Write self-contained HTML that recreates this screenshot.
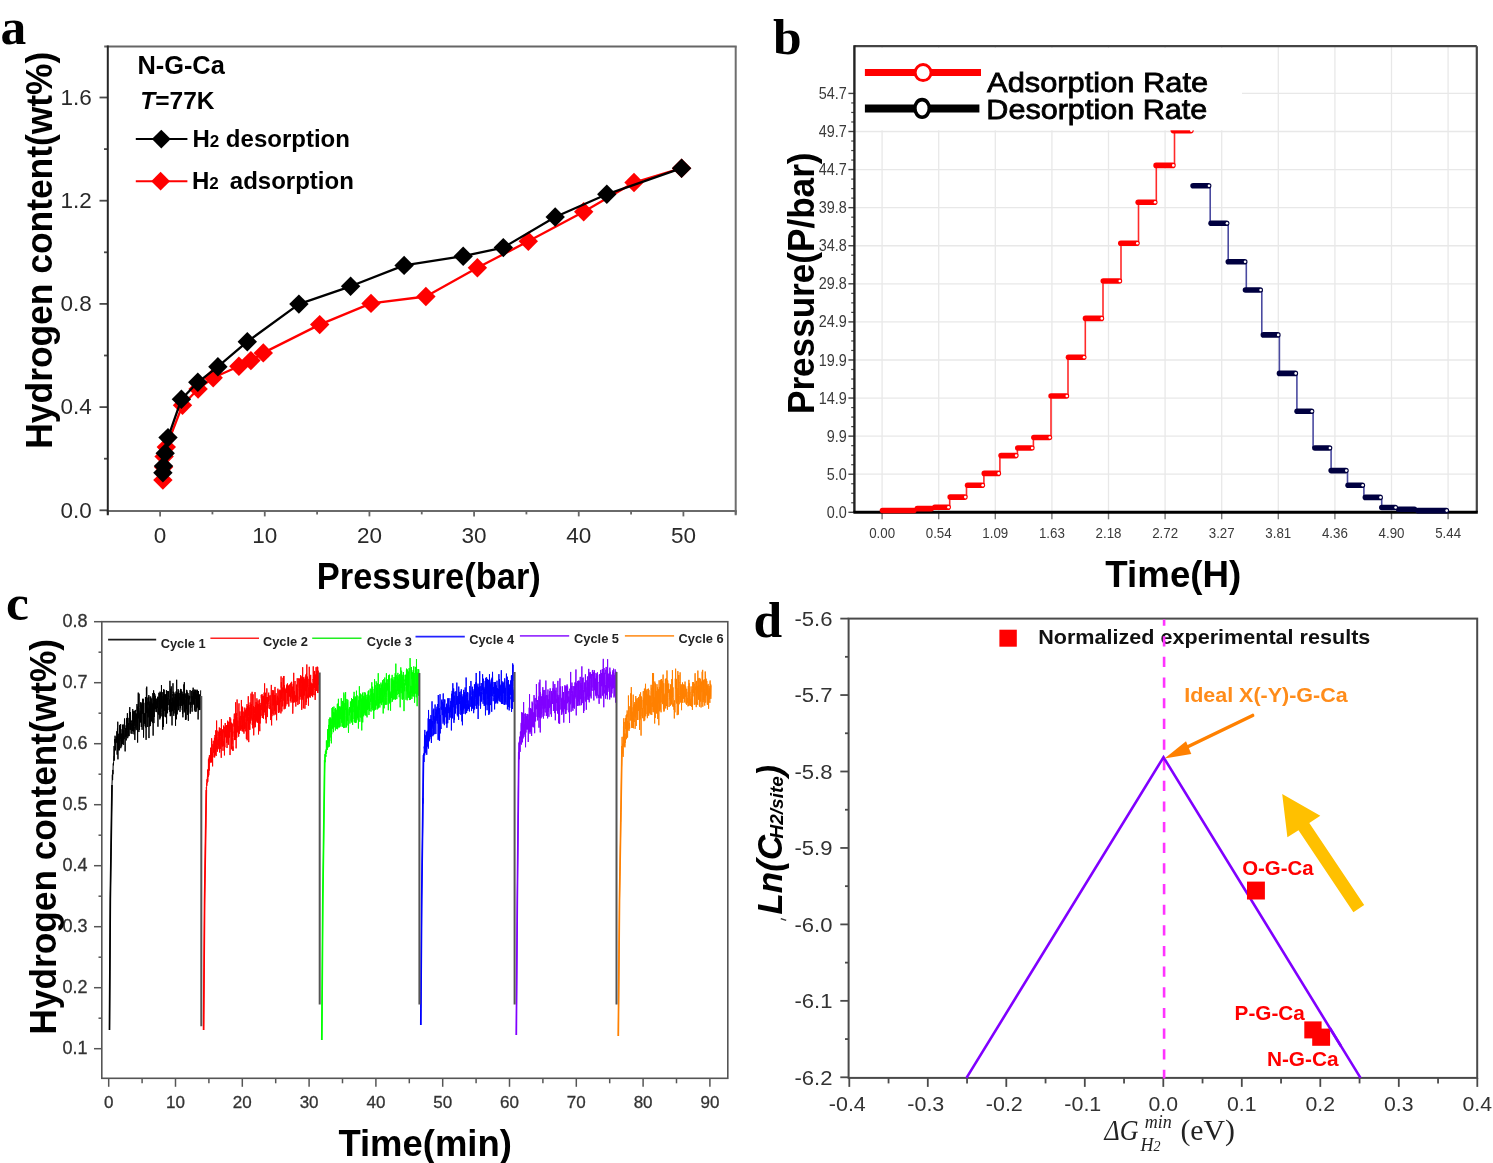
<!DOCTYPE html><html><head><meta charset="utf-8"><style>html,body{margin:0;padding:0;background:#fff;overflow:hidden}svg{display:block;filter:blur(0.4px)}</style></head><body>
<svg width="1493" height="1163" viewBox="0 0 1493 1163">
<rect width="1493" height="1163" fill="#fff"/>
<line x1="104.2" y1="46.4" x2="736.7" y2="46.4" stroke="#666" stroke-width="2" />
<line x1="735.7" y1="46.4" x2="735.7" y2="515.2" stroke="#6e6e6e" stroke-width="2" />
<line x1="106.8" y1="510.9" x2="736.7" y2="510.9" stroke="#6a6a6a" stroke-width="2" />
<line x1="99.5" y1="510.3" x2="107.8" y2="510.3" stroke="#4a4a4a" stroke-width="1.8" />
<text x="91.8" y="517.6" font-family='"Liberation Sans", sans-serif' font-size="22.5" font-weight="normal" font-style="normal" fill="#2a2a2a" text-anchor="end" >0.0</text>
<line x1="104" y1="458.7" x2="107.8" y2="458.7" stroke="#4a4a4a" stroke-width="1.8" />
<line x1="99.5" y1="407.1" x2="107.8" y2="407.1" stroke="#4a4a4a" stroke-width="1.8" />
<text x="91.8" y="414.4" font-family='"Liberation Sans", sans-serif' font-size="22.5" font-weight="normal" font-style="normal" fill="#2a2a2a" text-anchor="end" >0.4</text>
<line x1="104" y1="355.5" x2="107.8" y2="355.5" stroke="#4a4a4a" stroke-width="1.8" />
<line x1="99.5" y1="303.9" x2="107.8" y2="303.9" stroke="#4a4a4a" stroke-width="1.8" />
<text x="91.8" y="311.2" font-family='"Liberation Sans", sans-serif' font-size="22.5" font-weight="normal" font-style="normal" fill="#2a2a2a" text-anchor="end" >0.8</text>
<line x1="104" y1="252.3" x2="107.8" y2="252.3" stroke="#4a4a4a" stroke-width="1.8" />
<line x1="99.5" y1="200.7" x2="107.8" y2="200.7" stroke="#4a4a4a" stroke-width="1.8" />
<text x="91.8" y="208" font-family='"Liberation Sans", sans-serif' font-size="22.5" font-weight="normal" font-style="normal" fill="#2a2a2a" text-anchor="end" >1.2</text>
<line x1="104" y1="149.1" x2="107.8" y2="149.1" stroke="#4a4a4a" stroke-width="1.8" />
<line x1="99.5" y1="97.5" x2="107.8" y2="97.5" stroke="#4a4a4a" stroke-width="1.8" />
<text x="91.8" y="104.8" font-family='"Liberation Sans", sans-serif' font-size="22.5" font-weight="normal" font-style="normal" fill="#2a2a2a" text-anchor="end" >1.6</text>
<line x1="107.77" y1="510.9" x2="107.77" y2="514.4" stroke="#666" stroke-width="1.8" />
<line x1="160.1" y1="510.9" x2="160.1" y2="516.4" stroke="#666" stroke-width="1.8" />
<text x="160.1" y="543.2" font-family='"Liberation Sans", sans-serif' font-size="22.5" font-weight="normal" font-style="normal" fill="#2a2a2a" text-anchor="middle" >0</text>
<line x1="212.43" y1="510.9" x2="212.43" y2="514.4" stroke="#666" stroke-width="1.8" />
<line x1="264.76" y1="510.9" x2="264.76" y2="516.4" stroke="#666" stroke-width="1.8" />
<text x="264.76" y="543.2" font-family='"Liberation Sans", sans-serif' font-size="22.5" font-weight="normal" font-style="normal" fill="#2a2a2a" text-anchor="middle" >10</text>
<line x1="317.09" y1="510.9" x2="317.09" y2="514.4" stroke="#666" stroke-width="1.8" />
<line x1="369.42" y1="510.9" x2="369.42" y2="516.4" stroke="#666" stroke-width="1.8" />
<text x="369.42" y="543.2" font-family='"Liberation Sans", sans-serif' font-size="22.5" font-weight="normal" font-style="normal" fill="#2a2a2a" text-anchor="middle" >20</text>
<line x1="421.75" y1="510.9" x2="421.75" y2="514.4" stroke="#666" stroke-width="1.8" />
<line x1="474.08" y1="510.9" x2="474.08" y2="516.4" stroke="#666" stroke-width="1.8" />
<text x="474.08" y="543.2" font-family='"Liberation Sans", sans-serif' font-size="22.5" font-weight="normal" font-style="normal" fill="#2a2a2a" text-anchor="middle" >30</text>
<line x1="526.41" y1="510.9" x2="526.41" y2="514.4" stroke="#666" stroke-width="1.8" />
<line x1="578.74" y1="510.9" x2="578.74" y2="516.4" stroke="#666" stroke-width="1.8" />
<text x="578.74" y="543.2" font-family='"Liberation Sans", sans-serif' font-size="22.5" font-weight="normal" font-style="normal" fill="#2a2a2a" text-anchor="middle" >40</text>
<line x1="631.07" y1="510.9" x2="631.07" y2="514.4" stroke="#666" stroke-width="1.8" />
<line x1="683.4" y1="510.9" x2="683.4" y2="516.4" stroke="#666" stroke-width="1.8" />
<text x="683.4" y="543.2" font-family='"Liberation Sans", sans-serif' font-size="22.5" font-weight="normal" font-style="normal" fill="#2a2a2a" text-anchor="middle" >50</text>
<line x1="735.73" y1="510.9" x2="735.73" y2="514.4" stroke="#666" stroke-width="1.8" />
<line x1="107.8" y1="45.4" x2="107.8" y2="515.3" stroke="#262626" stroke-width="2" />
<text transform="translate(51.7,448.7) rotate(-90)" font-family='"Liberation Sans", sans-serif' font-size="36" font-weight="bold" font-style="normal" fill="#000" text-anchor="start" textLength="397" lengthAdjust="spacingAndGlyphs" >Hydrogen content(wt%)</text>
<text x="316.8" y="589.3" font-family='"Liberation Sans", sans-serif' font-size="36" font-weight="bold" font-style="normal" fill="#000" text-anchor="start" textLength="224" lengthAdjust="spacingAndGlyphs" >Pressure(bar)</text>
<text x="0.4" y="43.9" font-family='"Liberation Serif", serif' font-size="51.5" font-weight="bold" font-style="normal" fill="#000" text-anchor="start" >a</text>
<text x="137.4" y="73.5" font-family='"Liberation Sans", sans-serif' font-size="25.5" font-weight="bold" font-style="normal" fill="#000" text-anchor="start" textLength="87.4" lengthAdjust="spacingAndGlyphs" >N-G-Ca</text>
<text x="140.3" y="108.7" font-family='"Liberation Sans", sans-serif' font-size="24.5" font-weight="bold" fill="#000"><tspan font-style="italic">T</tspan>=77K</text>
<line x1="135.8" y1="139.1" x2="187.4" y2="139.1" stroke="#000" stroke-width="2" />
<polygon points="161.3,129.7 170.7,139.1 161.3,148.5 151.9,139.1" fill="#000" />
<line x1="135.8" y1="181.2" x2="187.4" y2="181.2" stroke="#ff0000" stroke-width="2" />
<polygon points="160.6,171.8 170,181.2 160.6,190.6 151.2,181.2" fill="#ff0000" />
<text x="192.4" y="147.1" font-family='"Liberation Sans", sans-serif' font-size="24" font-weight="bold" fill="#000">H<tspan font-size="17">2</tspan> desorption</text>
<text x="191.9" y="188.6" font-family='"Liberation Sans", sans-serif' font-size="24" font-weight="bold" fill="#000">H<tspan font-size="17">2</tspan>  <tspan x="229.8">adsorption</tspan></text>
<polyline points="162.9,480.1 163.6,467 164.1,456.6 166.3,447.1 182.5,405.2 198.1,389 213.2,377.8 238.9,366.3 250.9,360.6 263.3,352.9 319.7,324.6 371,303.4 425.9,296.5 477.4,267.7 528.3,241.3 583.7,211.7 634,182.5 681.6,168.2" stroke="#ff0000" stroke-width="2.3" fill="none" stroke-linejoin="round"/>
<polygon points="162.9,470.4 172.6,480.1 162.9,489.8 153.2,480.1" fill="#ff0000" />
<polygon points="163.6,457.3 173.3,467 163.6,476.7 153.9,467" fill="#ff0000" />
<polygon points="164.1,446.9 173.8,456.6 164.1,466.3 154.4,456.6" fill="#ff0000" />
<polygon points="166.3,437.4 176,447.1 166.3,456.8 156.6,447.1" fill="#ff0000" />
<polygon points="182.5,395.5 192.2,405.2 182.5,414.9 172.8,405.2" fill="#ff0000" />
<polygon points="198.1,379.3 207.8,389 198.1,398.7 188.4,389" fill="#ff0000" />
<polygon points="213.2,368.1 222.9,377.8 213.2,387.5 203.5,377.8" fill="#ff0000" />
<polygon points="238.9,356.6 248.6,366.3 238.9,376 229.2,366.3" fill="#ff0000" />
<polygon points="250.9,350.9 260.6,360.6 250.9,370.3 241.2,360.6" fill="#ff0000" />
<polygon points="263.3,343.2 273,352.9 263.3,362.6 253.6,352.9" fill="#ff0000" />
<polygon points="319.7,314.9 329.4,324.6 319.7,334.3 310,324.6" fill="#ff0000" />
<polygon points="371,293.7 380.7,303.4 371,313.1 361.3,303.4" fill="#ff0000" />
<polygon points="425.9,286.8 435.6,296.5 425.9,306.2 416.2,296.5" fill="#ff0000" />
<polygon points="477.4,258 487.1,267.7 477.4,277.4 467.7,267.7" fill="#ff0000" />
<polygon points="528.3,231.6 538,241.3 528.3,251 518.6,241.3" fill="#ff0000" />
<polygon points="583.7,202 593.4,211.7 583.7,221.4 574,211.7" fill="#ff0000" />
<polygon points="634,172.8 643.7,182.5 634,192.2 624.3,182.5" fill="#ff0000" />
<polygon points="681.6,158.5 691.3,168.2 681.6,177.9 671.9,168.2" fill="#ff0000" />
<polyline points="162.9,472.8 163.5,466.1 165.2,453.2 168,437.6 181.4,399.3 197.8,382.3 217.9,366.7 247.3,341.7 298.9,304.1 350.6,286.3 404.1,265.4 463.2,256.2 503.3,247.6 555.2,217 606.8,194.3 681.6,168.2" stroke="#000" stroke-width="2.3" fill="none" stroke-linejoin="round"/>
<polygon points="162.9,463.1 172.6,472.8 162.9,482.5 153.2,472.8" fill="#000" />
<polygon points="163.5,456.4 173.2,466.1 163.5,475.8 153.8,466.1" fill="#000" />
<polygon points="165.2,443.5 174.9,453.2 165.2,462.9 155.5,453.2" fill="#000" />
<polygon points="168,427.9 177.7,437.6 168,447.3 158.3,437.6" fill="#000" />
<polygon points="181.4,389.6 191.1,399.3 181.4,409 171.7,399.3" fill="#000" />
<polygon points="197.8,372.6 207.5,382.3 197.8,392 188.1,382.3" fill="#000" />
<polygon points="217.9,357 227.6,366.7 217.9,376.4 208.2,366.7" fill="#000" />
<polygon points="247.3,332 257,341.7 247.3,351.4 237.6,341.7" fill="#000" />
<polygon points="298.9,294.4 308.6,304.1 298.9,313.8 289.2,304.1" fill="#000" />
<polygon points="350.6,276.6 360.3,286.3 350.6,296 340.9,286.3" fill="#000" />
<polygon points="404.1,255.7 413.8,265.4 404.1,275.1 394.4,265.4" fill="#000" />
<polygon points="463.2,246.5 472.9,256.2 463.2,265.9 453.5,256.2" fill="#000" />
<polygon points="503.3,237.9 513,247.6 503.3,257.3 493.6,247.6" fill="#000" />
<polygon points="555.2,207.3 564.9,217 555.2,226.7 545.5,217" fill="#000" />
<polygon points="606.8,184.6 616.5,194.3 606.8,204 597.1,194.3" fill="#000" />
<polygon points="681.6,158.5 691.3,168.2 681.6,177.9 671.9,168.2" fill="#000" />
<rect x="854.4" y="46.2" width="622.4" height="466.1" fill="#fff" stroke="none"/>
<line x1="854.4" y1="474.22" x2="1476.8" y2="474.22" stroke="#e8e8e8" stroke-width="1.3" />
<line x1="854.4" y1="436.14" x2="1476.8" y2="436.14" stroke="#e8e8e8" stroke-width="1.3" />
<line x1="854.4" y1="398.06" x2="1476.8" y2="398.06" stroke="#e8e8e8" stroke-width="1.3" />
<line x1="854.4" y1="359.98" x2="1476.8" y2="359.98" stroke="#e8e8e8" stroke-width="1.3" />
<line x1="854.4" y1="321.9" x2="1476.8" y2="321.9" stroke="#e8e8e8" stroke-width="1.3" />
<line x1="854.4" y1="283.82" x2="1476.8" y2="283.82" stroke="#e8e8e8" stroke-width="1.3" />
<line x1="854.4" y1="245.74" x2="1476.8" y2="245.74" stroke="#e8e8e8" stroke-width="1.3" />
<line x1="854.4" y1="207.66" x2="1476.8" y2="207.66" stroke="#e8e8e8" stroke-width="1.3" />
<line x1="854.4" y1="169.58" x2="1476.8" y2="169.58" stroke="#e8e8e8" stroke-width="1.3" />
<line x1="854.4" y1="131.5" x2="1476.8" y2="131.5" stroke="#e8e8e8" stroke-width="1.3" />
<line x1="854.4" y1="93.42" x2="1476.8" y2="93.42" stroke="#e8e8e8" stroke-width="1.3" />
<line x1="882.1" y1="46.2" x2="882.1" y2="512.3" stroke="#e8e8e8" stroke-width="1.3" />
<line x1="938.7" y1="46.2" x2="938.7" y2="512.3" stroke="#e8e8e8" stroke-width="1.3" />
<line x1="995.3" y1="46.2" x2="995.3" y2="512.3" stroke="#e8e8e8" stroke-width="1.3" />
<line x1="1051.9" y1="46.2" x2="1051.9" y2="512.3" stroke="#e8e8e8" stroke-width="1.3" />
<line x1="1108.5" y1="46.2" x2="1108.5" y2="512.3" stroke="#e8e8e8" stroke-width="1.3" />
<line x1="1165.1" y1="46.2" x2="1165.1" y2="512.3" stroke="#e8e8e8" stroke-width="1.3" />
<line x1="1221.7" y1="46.2" x2="1221.7" y2="512.3" stroke="#e8e8e8" stroke-width="1.3" />
<line x1="1278.3" y1="46.2" x2="1278.3" y2="512.3" stroke="#e8e8e8" stroke-width="1.3" />
<line x1="1334.9" y1="46.2" x2="1334.9" y2="512.3" stroke="#e8e8e8" stroke-width="1.3" />
<line x1="1391.5" y1="46.2" x2="1391.5" y2="512.3" stroke="#e8e8e8" stroke-width="1.3" />
<line x1="1448.1" y1="46.2" x2="1448.1" y2="512.3" stroke="#e8e8e8" stroke-width="1.3" />
<line x1="848.4" y1="512.3" x2="854.4" y2="512.3" stroke="#444" stroke-width="1.4" />
<text x="846.8" y="517.9" font-family='"Liberation Sans", sans-serif' font-size="16" font-weight="normal" font-style="normal" fill="#3a3a3a" text-anchor="end" transform="translate(846.8 0) scale(0.9 1) translate(-846.8 0)">0.0</text>
<line x1="851.2" y1="502.78" x2="854.4" y2="502.78" stroke="#444" stroke-width="1.2" />
<line x1="851.2" y1="493.26" x2="854.4" y2="493.26" stroke="#444" stroke-width="1.2" />
<line x1="851.2" y1="483.74" x2="854.4" y2="483.74" stroke="#444" stroke-width="1.2" />
<line x1="848.4" y1="474.22" x2="854.4" y2="474.22" stroke="#444" stroke-width="1.4" />
<text x="846.8" y="479.82" font-family='"Liberation Sans", sans-serif' font-size="16" font-weight="normal" font-style="normal" fill="#3a3a3a" text-anchor="end" transform="translate(846.8 0) scale(0.9 1) translate(-846.8 0)">5.0</text>
<line x1="851.2" y1="464.7" x2="854.4" y2="464.7" stroke="#444" stroke-width="1.2" />
<line x1="851.2" y1="455.18" x2="854.4" y2="455.18" stroke="#444" stroke-width="1.2" />
<line x1="851.2" y1="445.66" x2="854.4" y2="445.66" stroke="#444" stroke-width="1.2" />
<line x1="848.4" y1="436.14" x2="854.4" y2="436.14" stroke="#444" stroke-width="1.4" />
<text x="846.8" y="441.74" font-family='"Liberation Sans", sans-serif' font-size="16" font-weight="normal" font-style="normal" fill="#3a3a3a" text-anchor="end" transform="translate(846.8 0) scale(0.9 1) translate(-846.8 0)">9.9</text>
<line x1="851.2" y1="426.62" x2="854.4" y2="426.62" stroke="#444" stroke-width="1.2" />
<line x1="851.2" y1="417.1" x2="854.4" y2="417.1" stroke="#444" stroke-width="1.2" />
<line x1="851.2" y1="407.58" x2="854.4" y2="407.58" stroke="#444" stroke-width="1.2" />
<line x1="848.4" y1="398.06" x2="854.4" y2="398.06" stroke="#444" stroke-width="1.4" />
<text x="846.8" y="403.66" font-family='"Liberation Sans", sans-serif' font-size="16" font-weight="normal" font-style="normal" fill="#3a3a3a" text-anchor="end" transform="translate(846.8 0) scale(0.9 1) translate(-846.8 0)">14.9</text>
<line x1="851.2" y1="388.54" x2="854.4" y2="388.54" stroke="#444" stroke-width="1.2" />
<line x1="851.2" y1="379.02" x2="854.4" y2="379.02" stroke="#444" stroke-width="1.2" />
<line x1="851.2" y1="369.5" x2="854.4" y2="369.5" stroke="#444" stroke-width="1.2" />
<line x1="848.4" y1="359.98" x2="854.4" y2="359.98" stroke="#444" stroke-width="1.4" />
<text x="846.8" y="365.58" font-family='"Liberation Sans", sans-serif' font-size="16" font-weight="normal" font-style="normal" fill="#3a3a3a" text-anchor="end" transform="translate(846.8 0) scale(0.9 1) translate(-846.8 0)">19.9</text>
<line x1="851.2" y1="350.46" x2="854.4" y2="350.46" stroke="#444" stroke-width="1.2" />
<line x1="851.2" y1="340.94" x2="854.4" y2="340.94" stroke="#444" stroke-width="1.2" />
<line x1="851.2" y1="331.42" x2="854.4" y2="331.42" stroke="#444" stroke-width="1.2" />
<line x1="848.4" y1="321.9" x2="854.4" y2="321.9" stroke="#444" stroke-width="1.4" />
<text x="846.8" y="327.5" font-family='"Liberation Sans", sans-serif' font-size="16" font-weight="normal" font-style="normal" fill="#3a3a3a" text-anchor="end" transform="translate(846.8 0) scale(0.9 1) translate(-846.8 0)">24.9</text>
<line x1="851.2" y1="312.38" x2="854.4" y2="312.38" stroke="#444" stroke-width="1.2" />
<line x1="851.2" y1="302.86" x2="854.4" y2="302.86" stroke="#444" stroke-width="1.2" />
<line x1="851.2" y1="293.34" x2="854.4" y2="293.34" stroke="#444" stroke-width="1.2" />
<line x1="848.4" y1="283.82" x2="854.4" y2="283.82" stroke="#444" stroke-width="1.4" />
<text x="846.8" y="289.42" font-family='"Liberation Sans", sans-serif' font-size="16" font-weight="normal" font-style="normal" fill="#3a3a3a" text-anchor="end" transform="translate(846.8 0) scale(0.9 1) translate(-846.8 0)">29.8</text>
<line x1="851.2" y1="274.3" x2="854.4" y2="274.3" stroke="#444" stroke-width="1.2" />
<line x1="851.2" y1="264.78" x2="854.4" y2="264.78" stroke="#444" stroke-width="1.2" />
<line x1="851.2" y1="255.26" x2="854.4" y2="255.26" stroke="#444" stroke-width="1.2" />
<line x1="848.4" y1="245.74" x2="854.4" y2="245.74" stroke="#444" stroke-width="1.4" />
<text x="846.8" y="251.34" font-family='"Liberation Sans", sans-serif' font-size="16" font-weight="normal" font-style="normal" fill="#3a3a3a" text-anchor="end" transform="translate(846.8 0) scale(0.9 1) translate(-846.8 0)">34.8</text>
<line x1="851.2" y1="236.22" x2="854.4" y2="236.22" stroke="#444" stroke-width="1.2" />
<line x1="851.2" y1="226.7" x2="854.4" y2="226.7" stroke="#444" stroke-width="1.2" />
<line x1="851.2" y1="217.18" x2="854.4" y2="217.18" stroke="#444" stroke-width="1.2" />
<line x1="848.4" y1="207.66" x2="854.4" y2="207.66" stroke="#444" stroke-width="1.4" />
<text x="846.8" y="213.26" font-family='"Liberation Sans", sans-serif' font-size="16" font-weight="normal" font-style="normal" fill="#3a3a3a" text-anchor="end" transform="translate(846.8 0) scale(0.9 1) translate(-846.8 0)">39.8</text>
<line x1="851.2" y1="198.14" x2="854.4" y2="198.14" stroke="#444" stroke-width="1.2" />
<line x1="851.2" y1="188.62" x2="854.4" y2="188.62" stroke="#444" stroke-width="1.2" />
<line x1="851.2" y1="179.1" x2="854.4" y2="179.1" stroke="#444" stroke-width="1.2" />
<line x1="848.4" y1="169.58" x2="854.4" y2="169.58" stroke="#444" stroke-width="1.4" />
<text x="846.8" y="175.18" font-family='"Liberation Sans", sans-serif' font-size="16" font-weight="normal" font-style="normal" fill="#3a3a3a" text-anchor="end" transform="translate(846.8 0) scale(0.9 1) translate(-846.8 0)">44.7</text>
<line x1="851.2" y1="160.06" x2="854.4" y2="160.06" stroke="#444" stroke-width="1.2" />
<line x1="851.2" y1="150.54" x2="854.4" y2="150.54" stroke="#444" stroke-width="1.2" />
<line x1="851.2" y1="141.02" x2="854.4" y2="141.02" stroke="#444" stroke-width="1.2" />
<line x1="848.4" y1="131.5" x2="854.4" y2="131.5" stroke="#444" stroke-width="1.4" />
<text x="846.8" y="137.1" font-family='"Liberation Sans", sans-serif' font-size="16" font-weight="normal" font-style="normal" fill="#3a3a3a" text-anchor="end" transform="translate(846.8 0) scale(0.9 1) translate(-846.8 0)">49.7</text>
<line x1="851.2" y1="121.98" x2="854.4" y2="121.98" stroke="#444" stroke-width="1.2" />
<line x1="851.2" y1="112.46" x2="854.4" y2="112.46" stroke="#444" stroke-width="1.2" />
<line x1="851.2" y1="102.94" x2="854.4" y2="102.94" stroke="#444" stroke-width="1.2" />
<line x1="848.4" y1="93.42" x2="854.4" y2="93.42" stroke="#444" stroke-width="1.4" />
<text x="846.8" y="99.02" font-family='"Liberation Sans", sans-serif' font-size="16" font-weight="normal" font-style="normal" fill="#3a3a3a" text-anchor="end" transform="translate(846.8 0) scale(0.9 1) translate(-846.8 0)">54.7</text>
<line x1="882.1" y1="512.3" x2="882.1" y2="519.3" stroke="#777" stroke-width="1.4" />
<text x="0" y="0" transform="translate(882.1,537.7) scale(0.9,1)" font-family='"Liberation Sans", sans-serif' font-size="14.8" fill="#3a3a3a" text-anchor="middle">0.00</text>
<line x1="938.7" y1="512.3" x2="938.7" y2="519.3" stroke="#777" stroke-width="1.4" />
<text x="0" y="0" transform="translate(938.7,537.7) scale(0.9,1)" font-family='"Liberation Sans", sans-serif' font-size="14.8" fill="#3a3a3a" text-anchor="middle">0.54</text>
<line x1="995.3" y1="512.3" x2="995.3" y2="519.3" stroke="#777" stroke-width="1.4" />
<text x="0" y="0" transform="translate(995.3,537.7) scale(0.9,1)" font-family='"Liberation Sans", sans-serif' font-size="14.8" fill="#3a3a3a" text-anchor="middle">1.09</text>
<line x1="1051.9" y1="512.3" x2="1051.9" y2="519.3" stroke="#777" stroke-width="1.4" />
<text x="0" y="0" transform="translate(1051.9,537.7) scale(0.9,1)" font-family='"Liberation Sans", sans-serif' font-size="14.8" fill="#3a3a3a" text-anchor="middle">1.63</text>
<line x1="1108.5" y1="512.3" x2="1108.5" y2="519.3" stroke="#777" stroke-width="1.4" />
<text x="0" y="0" transform="translate(1108.5,537.7) scale(0.9,1)" font-family='"Liberation Sans", sans-serif' font-size="14.8" fill="#3a3a3a" text-anchor="middle">2.18</text>
<line x1="1165.1" y1="512.3" x2="1165.1" y2="519.3" stroke="#777" stroke-width="1.4" />
<text x="0" y="0" transform="translate(1165.1,537.7) scale(0.9,1)" font-family='"Liberation Sans", sans-serif' font-size="14.8" fill="#3a3a3a" text-anchor="middle">2.72</text>
<line x1="1221.7" y1="512.3" x2="1221.7" y2="519.3" stroke="#777" stroke-width="1.4" />
<text x="0" y="0" transform="translate(1221.7,537.7) scale(0.9,1)" font-family='"Liberation Sans", sans-serif' font-size="14.8" fill="#3a3a3a" text-anchor="middle">3.27</text>
<line x1="1278.3" y1="512.3" x2="1278.3" y2="519.3" stroke="#777" stroke-width="1.4" />
<text x="0" y="0" transform="translate(1278.3,537.7) scale(0.9,1)" font-family='"Liberation Sans", sans-serif' font-size="14.8" fill="#3a3a3a" text-anchor="middle">3.81</text>
<line x1="1334.9" y1="512.3" x2="1334.9" y2="519.3" stroke="#777" stroke-width="1.4" />
<text x="0" y="0" transform="translate(1334.9,537.7) scale(0.9,1)" font-family='"Liberation Sans", sans-serif' font-size="14.8" fill="#3a3a3a" text-anchor="middle">4.36</text>
<line x1="1391.5" y1="512.3" x2="1391.5" y2="519.3" stroke="#777" stroke-width="1.4" />
<text x="0" y="0" transform="translate(1391.5,537.7) scale(0.9,1)" font-family='"Liberation Sans", sans-serif' font-size="14.8" fill="#3a3a3a" text-anchor="middle">4.90</text>
<line x1="1448.1" y1="512.3" x2="1448.1" y2="519.3" stroke="#777" stroke-width="1.4" />
<text x="0" y="0" transform="translate(1448.1,537.7) scale(0.9,1)" font-family='"Liberation Sans", sans-serif' font-size="14.8" fill="#3a3a3a" text-anchor="middle">5.44</text>
<line x1="854.4" y1="46.2" x2="1476.8" y2="46.2" stroke="#444" stroke-width="2.2" />
<line x1="1476.8" y1="46.2" x2="1476.8" y2="512.3" stroke="#444" stroke-width="2.2" />
<line x1="854.4" y1="45.2" x2="854.4" y2="512.3" stroke="#222" stroke-width="2.4" />
<line x1="853.4" y1="512.3" x2="1477.8" y2="512.3" stroke="#000" stroke-width="3" />
<line x1="949.7" y1="507.2" x2="949.7" y2="497.1" stroke="#ff2a2a" stroke-width="1.6" />
<line x1="966.5" y1="497.1" x2="966.5" y2="485.3" stroke="#ff2a2a" stroke-width="1.6" />
<line x1="983.9" y1="485.3" x2="983.9" y2="473.4" stroke="#ff2a2a" stroke-width="1.6" />
<line x1="999.9" y1="473.4" x2="999.9" y2="455.6" stroke="#ff2a2a" stroke-width="1.6" />
<line x1="1017.4" y1="455.6" x2="1017.4" y2="448" stroke="#ff2a2a" stroke-width="1.6" />
<line x1="1033.4" y1="448" x2="1033.4" y2="437.5" stroke="#ff2a2a" stroke-width="1.6" />
<line x1="1051" y1="437.5" x2="1051" y2="396" stroke="#ff2a2a" stroke-width="1.6" />
<line x1="1068" y1="396" x2="1068" y2="357.2" stroke="#ff2a2a" stroke-width="1.6" />
<line x1="1085.3" y1="357.2" x2="1085.3" y2="318.4" stroke="#ff2a2a" stroke-width="1.6" />
<line x1="1103" y1="318.4" x2="1103" y2="281" stroke="#ff2a2a" stroke-width="1.6" />
<line x1="1121" y1="281" x2="1121" y2="243.2" stroke="#ff2a2a" stroke-width="1.6" />
<line x1="1138.5" y1="243.2" x2="1138.5" y2="202.2" stroke="#ff2a2a" stroke-width="1.6" />
<line x1="1156.3" y1="202.2" x2="1156.3" y2="165.4" stroke="#ff2a2a" stroke-width="1.6" />
<line x1="1174.5" y1="165.4" x2="1174.5" y2="130.6" stroke="#ff2a2a" stroke-width="1.6" />
<line x1="882.5" y1="510.5" x2="913.9" y2="510.5" stroke="#ff0000" stroke-width="5.6" stroke-linecap="round"/>
<line x1="917.3" y1="508.6" x2="931.4" y2="508.6" stroke="#ff0000" stroke-width="5.6" stroke-linecap="round"/>
<line x1="934.8" y1="507.2" x2="948.1" y2="507.2" stroke="#ff0000" stroke-width="5.6" stroke-linecap="round"/>
<line x1="950.2" y1="497.1" x2="964.9" y2="497.1" stroke="#ff0000" stroke-width="5.6" stroke-linecap="round"/>
<line x1="967.6" y1="485.3" x2="982.3" y2="485.3" stroke="#ff0000" stroke-width="5.6" stroke-linecap="round"/>
<line x1="984.3" y1="473.4" x2="998.3" y2="473.4" stroke="#ff0000" stroke-width="5.6" stroke-linecap="round"/>
<line x1="1001.1" y1="455.6" x2="1015.8" y2="455.6" stroke="#ff0000" stroke-width="5.6" stroke-linecap="round"/>
<line x1="1017.8" y1="448" x2="1031.8" y2="448" stroke="#ff0000" stroke-width="5.6" stroke-linecap="round"/>
<line x1="1033.9" y1="437.5" x2="1049.4" y2="437.5" stroke="#ff0000" stroke-width="5.6" stroke-linecap="round"/>
<line x1="1051.1" y1="396" x2="1066.4" y2="396" stroke="#ff0000" stroke-width="5.6" stroke-linecap="round"/>
<line x1="1068.5" y1="357.2" x2="1083.7" y2="357.2" stroke="#ff0000" stroke-width="5.6" stroke-linecap="round"/>
<line x1="1085.5" y1="318.4" x2="1101.4" y2="318.4" stroke="#ff0000" stroke-width="5.6" stroke-linecap="round"/>
<line x1="1103.3" y1="281" x2="1119.4" y2="281" stroke="#ff0000" stroke-width="5.6" stroke-linecap="round"/>
<line x1="1120.8" y1="243.2" x2="1136.9" y2="243.2" stroke="#ff0000" stroke-width="5.6" stroke-linecap="round"/>
<line x1="1138.2" y1="202.2" x2="1154.7" y2="202.2" stroke="#ff0000" stroke-width="5.6" stroke-linecap="round"/>
<line x1="1156.1" y1="165.4" x2="1172.9" y2="165.4" stroke="#ff0000" stroke-width="5.6" stroke-linecap="round"/>
<line x1="1173.3" y1="130.6" x2="1190.9" y2="130.6" stroke="#ff0000" stroke-width="5.6" stroke-linecap="round"/>
<circle cx="948.5" cy="507.2" r="1.3" fill="#fff"/>
<circle cx="965.3" cy="497.1" r="1.3" fill="#fff"/>
<circle cx="982.7" cy="485.3" r="1.3" fill="#fff"/>
<circle cx="998.7" cy="473.4" r="1.3" fill="#fff"/>
<circle cx="1016.2" cy="455.6" r="1.3" fill="#fff"/>
<circle cx="1032.2" cy="448" r="1.3" fill="#fff"/>
<circle cx="1049.8" cy="437.5" r="1.3" fill="#fff"/>
<circle cx="1066.8" cy="396" r="1.3" fill="#fff"/>
<circle cx="1084.1" cy="357.2" r="1.3" fill="#fff"/>
<circle cx="1101.8" cy="318.4" r="1.3" fill="#fff"/>
<circle cx="1119.8" cy="281" r="1.3" fill="#fff"/>
<circle cx="1137.3" cy="243.2" r="1.3" fill="#fff"/>
<circle cx="1155.1" cy="202.2" r="1.3" fill="#fff"/>
<circle cx="1173.3" cy="165.4" r="1.3" fill="#fff"/>
<circle cx="1191.3" cy="130.6" r="1.3" fill="#fff"/>
<line x1="1210.2" y1="185.7" x2="1210.2" y2="223.2" stroke="#4a4aa0" stroke-width="1.6" />
<line x1="1228.2" y1="223.2" x2="1228.2" y2="261.7" stroke="#4a4aa0" stroke-width="1.6" />
<line x1="1246.3" y1="261.7" x2="1246.3" y2="290" stroke="#4a4aa0" stroke-width="1.6" />
<line x1="1261.8" y1="290" x2="1261.8" y2="334.9" stroke="#4a4aa0" stroke-width="1.6" />
<line x1="1279.4" y1="334.9" x2="1279.4" y2="373.4" stroke="#4a4aa0" stroke-width="1.6" />
<line x1="1296.9" y1="373.4" x2="1296.9" y2="411.2" stroke="#4a4aa0" stroke-width="1.6" />
<line x1="1313.1" y1="411.2" x2="1313.1" y2="448" stroke="#4a4aa0" stroke-width="1.6" />
<line x1="1331.1" y1="448" x2="1331.1" y2="470.6" stroke="#4a4aa0" stroke-width="1.6" />
<line x1="1347.5" y1="470.6" x2="1347.5" y2="485.3" stroke="#4a4aa0" stroke-width="1.6" />
<line x1="1363.9" y1="485.3" x2="1363.9" y2="497.4" stroke="#4a4aa0" stroke-width="1.6" />
<line x1="1381.7" y1="497.4" x2="1381.7" y2="507.5" stroke="#4a4aa0" stroke-width="1.6" />
<line x1="1193.1" y1="185.7" x2="1208.6" y2="185.7" stroke="#000040" stroke-width="5.6" stroke-linecap="round"/>
<line x1="1211.1" y1="223.2" x2="1226.6" y2="223.2" stroke="#000040" stroke-width="5.6" stroke-linecap="round"/>
<line x1="1228.3" y1="261.7" x2="1244.7" y2="261.7" stroke="#000040" stroke-width="5.6" stroke-linecap="round"/>
<line x1="1245.5" y1="290" x2="1260.2" y2="290" stroke="#000040" stroke-width="5.6" stroke-linecap="round"/>
<line x1="1263.4" y1="334.9" x2="1277.8" y2="334.9" stroke="#000040" stroke-width="5.6" stroke-linecap="round"/>
<line x1="1279.5" y1="373.4" x2="1295.3" y2="373.4" stroke="#000040" stroke-width="5.6" stroke-linecap="round"/>
<line x1="1297.1" y1="411.2" x2="1311.5" y2="411.2" stroke="#000040" stroke-width="5.6" stroke-linecap="round"/>
<line x1="1314.9" y1="448" x2="1329.5" y2="448" stroke="#000040" stroke-width="5.6" stroke-linecap="round"/>
<line x1="1331.2" y1="470.6" x2="1345.9" y2="470.6" stroke="#000040" stroke-width="5.6" stroke-linecap="round"/>
<line x1="1348.1" y1="485.3" x2="1362.3" y2="485.3" stroke="#000040" stroke-width="5.6" stroke-linecap="round"/>
<line x1="1365.4" y1="497.4" x2="1380.1" y2="497.4" stroke="#000040" stroke-width="5.6" stroke-linecap="round"/>
<line x1="1381.8" y1="507.5" x2="1395.2" y2="507.5" stroke="#000040" stroke-width="5.6" stroke-linecap="round"/>
<line x1="1398.6" y1="509.2" x2="1414.4" y2="509.2" stroke="#000040" stroke-width="5.6" stroke-linecap="round"/>
<line x1="1417.8" y1="510.6" x2="1446.3" y2="510.6" stroke="#000040" stroke-width="5.6" stroke-linecap="round"/>
<circle cx="1209" cy="185.7" r="1.3" fill="#fff"/>
<circle cx="1227" cy="223.2" r="1.3" fill="#fff"/>
<circle cx="1245.1" cy="261.7" r="1.3" fill="#fff"/>
<circle cx="1260.6" cy="290" r="1.3" fill="#fff"/>
<circle cx="1278.2" cy="334.9" r="1.3" fill="#fff"/>
<circle cx="1295.7" cy="373.4" r="1.3" fill="#fff"/>
<circle cx="1311.9" cy="411.2" r="1.3" fill="#fff"/>
<circle cx="1329.9" cy="448" r="1.3" fill="#fff"/>
<circle cx="1346.3" cy="470.6" r="1.3" fill="#fff"/>
<circle cx="1362.7" cy="485.3" r="1.3" fill="#fff"/>
<circle cx="1380.5" cy="497.4" r="1.3" fill="#fff"/>
<circle cx="1395.6" cy="507.5" r="1.3" fill="#fff"/>
<circle cx="1446.7" cy="510.6" r="1.3" fill="#fff"/>
<rect x="856" y="48" width="386" height="82.3" fill="#fff"/>
<line x1="864.9" y1="72.6" x2="981" y2="72.6" stroke="#ff0000" stroke-width="7" />
<circle cx="923.1" cy="72.6" r="8" fill="#fff" stroke="#ff0000" stroke-width="3"/>
<line x1="864.9" y1="108.4" x2="979.4" y2="108.4" stroke="#000" stroke-width="8" />
<ellipse cx="922.1" cy="108.4" rx="7.2" ry="8.8" fill="#fff" stroke="#000" stroke-width="3.6"/>
<text x="987.1" y="92.2" font-family='"Liberation Sans", sans-serif' font-size="28.5" font-weight="normal" font-style="normal" fill="#000" text-anchor="start" textLength="221" lengthAdjust="spacingAndGlyphs" stroke="#000" stroke-width="0.8">Adsorption Rate</text>
<text x="986.3" y="119.3" font-family='"Liberation Sans", sans-serif' font-size="28.5" font-weight="normal" font-style="normal" fill="#000" text-anchor="start" textLength="221" lengthAdjust="spacingAndGlyphs" stroke="#000" stroke-width="0.8">Desorption Rate</text>
<text transform="translate(813.9,414) rotate(-90)" font-family='"Liberation Sans", sans-serif' font-size="36" font-weight="bold" font-style="normal" fill="#000" text-anchor="start" textLength="261.5" lengthAdjust="spacingAndGlyphs" >Pressure(P/bar)</text>
<text x="1105.3" y="586.9" font-family='"Liberation Sans", sans-serif' font-size="36" font-weight="bold" font-style="normal" fill="#000" text-anchor="start" textLength="136" lengthAdjust="spacingAndGlyphs" >Time(H)</text>
<text x="773.1" y="54.1" font-family='"Liberation Serif", serif' font-size="51.5" font-weight="bold" font-style="normal" fill="#000" text-anchor="start" >b</text>
<line x1="94" y1="1048.7" x2="101.8" y2="1048.7" stroke="#555" stroke-width="1.5" />
<text x="87.6" y="1053.9" font-family='"Liberation Sans", sans-serif' font-size="18" font-weight="normal" font-style="normal" fill="#333" text-anchor="end" stroke="#333" stroke-width="0.3">0.1</text>
<line x1="98.5" y1="1018.2" x2="101.8" y2="1018.2" stroke="#555" stroke-width="1.5" />
<line x1="94" y1="987.7" x2="101.8" y2="987.7" stroke="#555" stroke-width="1.5" />
<text x="87.6" y="992.9" font-family='"Liberation Sans", sans-serif' font-size="18" font-weight="normal" font-style="normal" fill="#333" text-anchor="end" stroke="#333" stroke-width="0.3">0.2</text>
<line x1="98.5" y1="957.2" x2="101.8" y2="957.2" stroke="#555" stroke-width="1.5" />
<line x1="94" y1="926.7" x2="101.8" y2="926.7" stroke="#555" stroke-width="1.5" />
<text x="87.6" y="931.9" font-family='"Liberation Sans", sans-serif' font-size="18" font-weight="normal" font-style="normal" fill="#333" text-anchor="end" stroke="#333" stroke-width="0.3">0.3</text>
<line x1="98.5" y1="896.2" x2="101.8" y2="896.2" stroke="#555" stroke-width="1.5" />
<line x1="94" y1="865.7" x2="101.8" y2="865.7" stroke="#555" stroke-width="1.5" />
<text x="87.6" y="870.9" font-family='"Liberation Sans", sans-serif' font-size="18" font-weight="normal" font-style="normal" fill="#333" text-anchor="end" stroke="#333" stroke-width="0.3">0.4</text>
<line x1="98.5" y1="835.2" x2="101.8" y2="835.2" stroke="#555" stroke-width="1.5" />
<line x1="94" y1="804.7" x2="101.8" y2="804.7" stroke="#555" stroke-width="1.5" />
<text x="87.6" y="809.9" font-family='"Liberation Sans", sans-serif' font-size="18" font-weight="normal" font-style="normal" fill="#333" text-anchor="end" stroke="#333" stroke-width="0.3">0.5</text>
<line x1="98.5" y1="774.2" x2="101.8" y2="774.2" stroke="#555" stroke-width="1.5" />
<line x1="94" y1="743.7" x2="101.8" y2="743.7" stroke="#555" stroke-width="1.5" />
<text x="87.6" y="748.9" font-family='"Liberation Sans", sans-serif' font-size="18" font-weight="normal" font-style="normal" fill="#333" text-anchor="end" stroke="#333" stroke-width="0.3">0.6</text>
<line x1="98.5" y1="713.2" x2="101.8" y2="713.2" stroke="#555" stroke-width="1.5" />
<line x1="94" y1="682.7" x2="101.8" y2="682.7" stroke="#555" stroke-width="1.5" />
<text x="87.6" y="687.9" font-family='"Liberation Sans", sans-serif' font-size="18" font-weight="normal" font-style="normal" fill="#333" text-anchor="end" stroke="#333" stroke-width="0.3">0.7</text>
<line x1="98.5" y1="652.2" x2="101.8" y2="652.2" stroke="#555" stroke-width="1.5" />
<line x1="94" y1="621.7" x2="101.8" y2="621.7" stroke="#555" stroke-width="1.5" />
<text x="87.6" y="626.9" font-family='"Liberation Sans", sans-serif' font-size="18" font-weight="normal" font-style="normal" fill="#333" text-anchor="end" stroke="#333" stroke-width="0.3">0.8</text>
<line x1="108.7" y1="1078.3" x2="108.7" y2="1086.8" stroke="#555" stroke-width="1.5" />
<text x="108.7" y="1108" font-family='"Liberation Sans", sans-serif' font-size="17" font-weight="normal" font-style="normal" fill="#333" text-anchor="middle" stroke="#333" stroke-width="0.3">0</text>
<line x1="142.1" y1="1078.3" x2="142.1" y2="1083.3" stroke="#555" stroke-width="1.5" />
<line x1="175.5" y1="1078.3" x2="175.5" y2="1086.8" stroke="#555" stroke-width="1.5" />
<text x="175.5" y="1108" font-family='"Liberation Sans", sans-serif' font-size="17" font-weight="normal" font-style="normal" fill="#333" text-anchor="middle" stroke="#333" stroke-width="0.3">10</text>
<line x1="208.9" y1="1078.3" x2="208.9" y2="1083.3" stroke="#555" stroke-width="1.5" />
<line x1="242.3" y1="1078.3" x2="242.3" y2="1086.8" stroke="#555" stroke-width="1.5" />
<text x="242.3" y="1108" font-family='"Liberation Sans", sans-serif' font-size="17" font-weight="normal" font-style="normal" fill="#333" text-anchor="middle" stroke="#333" stroke-width="0.3">20</text>
<line x1="275.7" y1="1078.3" x2="275.7" y2="1083.3" stroke="#555" stroke-width="1.5" />
<line x1="309.1" y1="1078.3" x2="309.1" y2="1086.8" stroke="#555" stroke-width="1.5" />
<text x="309.1" y="1108" font-family='"Liberation Sans", sans-serif' font-size="17" font-weight="normal" font-style="normal" fill="#333" text-anchor="middle" stroke="#333" stroke-width="0.3">30</text>
<line x1="342.5" y1="1078.3" x2="342.5" y2="1083.3" stroke="#555" stroke-width="1.5" />
<line x1="375.9" y1="1078.3" x2="375.9" y2="1086.8" stroke="#555" stroke-width="1.5" />
<text x="375.9" y="1108" font-family='"Liberation Sans", sans-serif' font-size="17" font-weight="normal" font-style="normal" fill="#333" text-anchor="middle" stroke="#333" stroke-width="0.3">40</text>
<line x1="409.3" y1="1078.3" x2="409.3" y2="1083.3" stroke="#555" stroke-width="1.5" />
<line x1="442.7" y1="1078.3" x2="442.7" y2="1086.8" stroke="#555" stroke-width="1.5" />
<text x="442.7" y="1108" font-family='"Liberation Sans", sans-serif' font-size="17" font-weight="normal" font-style="normal" fill="#333" text-anchor="middle" stroke="#333" stroke-width="0.3">50</text>
<line x1="476.1" y1="1078.3" x2="476.1" y2="1083.3" stroke="#555" stroke-width="1.5" />
<line x1="509.5" y1="1078.3" x2="509.5" y2="1086.8" stroke="#555" stroke-width="1.5" />
<text x="509.5" y="1108" font-family='"Liberation Sans", sans-serif' font-size="17" font-weight="normal" font-style="normal" fill="#333" text-anchor="middle" stroke="#333" stroke-width="0.3">60</text>
<line x1="542.9" y1="1078.3" x2="542.9" y2="1083.3" stroke="#555" stroke-width="1.5" />
<line x1="576.3" y1="1078.3" x2="576.3" y2="1086.8" stroke="#555" stroke-width="1.5" />
<text x="576.3" y="1108" font-family='"Liberation Sans", sans-serif' font-size="17" font-weight="normal" font-style="normal" fill="#333" text-anchor="middle" stroke="#333" stroke-width="0.3">70</text>
<line x1="609.7" y1="1078.3" x2="609.7" y2="1083.3" stroke="#555" stroke-width="1.5" />
<line x1="643.1" y1="1078.3" x2="643.1" y2="1086.8" stroke="#555" stroke-width="1.5" />
<text x="643.1" y="1108" font-family='"Liberation Sans", sans-serif' font-size="17" font-weight="normal" font-style="normal" fill="#333" text-anchor="middle" stroke="#333" stroke-width="0.3">80</text>
<line x1="676.5" y1="1078.3" x2="676.5" y2="1083.3" stroke="#555" stroke-width="1.5" />
<line x1="709.9" y1="1078.3" x2="709.9" y2="1086.8" stroke="#555" stroke-width="1.5" />
<text x="709.9" y="1108" font-family='"Liberation Sans", sans-serif' font-size="17" font-weight="normal" font-style="normal" fill="#333" text-anchor="middle" stroke="#333" stroke-width="0.3">90</text>
<rect x="101.8" y="621.7" width="626" height="456.6" fill="none" stroke="#555" stroke-width="1.6"/>
<line x1="108.1" y1="639.6" x2="156.2" y2="639.6" stroke="#1a1a1a" stroke-width="1.6" />
<text x="160.7" y="647.5" font-family='"Liberation Sans", sans-serif' font-size="13.2" font-weight="bold" font-style="normal" fill="#222" text-anchor="start" textLength="45" lengthAdjust="spacingAndGlyphs" >Cycle 1</text>
<line x1="210.4" y1="638.3" x2="259" y2="638.3" stroke="#ff2222" stroke-width="1.6" />
<text x="262.9" y="646.4" font-family='"Liberation Sans", sans-serif' font-size="13.2" font-weight="bold" font-style="normal" fill="#222" text-anchor="start" textLength="45" lengthAdjust="spacingAndGlyphs" >Cycle 2</text>
<line x1="312.2" y1="638.3" x2="361.5" y2="638.3" stroke="#22ee22" stroke-width="1.6" />
<text x="366.8" y="646.4" font-family='"Liberation Sans", sans-serif' font-size="13.2" font-weight="bold" font-style="normal" fill="#222" text-anchor="start" textLength="45" lengthAdjust="spacingAndGlyphs" >Cycle 3</text>
<line x1="415.5" y1="636.6" x2="464.8" y2="636.6" stroke="#2222ff" stroke-width="1.6" />
<text x="469.2" y="643.9" font-family='"Liberation Sans", sans-serif' font-size="13.2" font-weight="bold" font-style="normal" fill="#222" text-anchor="start" textLength="45" lengthAdjust="spacingAndGlyphs" >Cycle 4</text>
<line x1="519.9" y1="635.9" x2="569.2" y2="635.9" stroke="#9933ff" stroke-width="1.6" />
<text x="574" y="642.8" font-family='"Liberation Sans", sans-serif' font-size="13.2" font-weight="bold" font-style="normal" fill="#222" text-anchor="start" textLength="45" lengthAdjust="spacingAndGlyphs" >Cycle 5</text>
<line x1="624.9" y1="635.9" x2="674.1" y2="635.9" stroke="#ff9933" stroke-width="1.6" />
<text x="678.6" y="643.2" font-family='"Liberation Sans", sans-serif' font-size="13.2" font-weight="bold" font-style="normal" fill="#222" text-anchor="start" textLength="45" lengthAdjust="spacingAndGlyphs" >Cycle 6</text>
<polyline points="109.5,1030 109.62,1010.5 109.74,991 109.86,971.5 109.98,952 110.1,932.5 110.22,913 110.34,896.85 110.46,888.53 110.58,880.82 110.7,871.81 110.82,863.85 110.94,856.52 111.06,847.55 111.18,840.85 111.3,832.6 111.42,825.91 111.54,813.72 111.66,806.47 111.78,801.23 111.9,792.13 112.02,784.08 112.18,779.6 112.34,774.62 112.5,780.15 112.66,779.7 112.82,769.93 112.98,774.26 113.14,765.28 113.3,763.33 113.46,765.38 113.62,761.35 113.78,755.58 113.94,754.99 114.1,745.96 114.26,760.63 114.42,748.88 114.58,751.25 114.74,739.13 114.9,742.69 115.06,735.71 115.22,740.77 115.38,749.78 115.54,750.34 115.7,739.54 115.86,739.45 116.02,743.03 116.18,736.86 116.34,739.65 116.5,742.11 116.66,739.09 116.82,731.26 116.98,742.63 117.14,754.65 117.3,737.16 117.46,728.4 117.62,744.36 117.78,721.73 117.94,759.33 118.1,733.74 118.26,748.71 118.42,742.6 118.58,736.65 118.74,750.34 118.9,738.89 119.06,733.93 119.22,733.91 119.38,750.24 119.54,725.3 119.7,724.9 119.86,736.97 120.02,738.95 120.18,727.3 120.34,739.13 120.5,738.03 120.66,724.1 120.82,748.21 120.98,729.25 121.14,741.38 121.3,733.55 121.46,734.42 121.62,746.46 121.78,738.9 121.94,740.61 122.1,737.18 122.26,742.66 122.42,744.22 122.58,724.8 122.74,732.45 122.9,735.35 123.06,739.21 123.22,724.49 123.38,740.06 123.54,731.18 123.7,744.87 123.86,730.21 124.02,733.72 124.18,739.2 124.34,726.2 124.5,718.5 124.66,729.16 124.82,729.32 124.98,732.67 125.14,751.38 125.3,733.67 125.46,736.86 125.62,728.2 125.78,736.64 125.94,736.77 126.1,725.32 126.26,740.41 126.42,718.67 126.58,717.95 126.74,735.91 126.9,736.27 127.06,731.38 127.22,728.18 127.38,713.2 127.54,730.57 127.7,738.21 127.86,736.3 128.02,717.86 128.18,719.93 128.34,727.83 128.5,723.01 128.66,736.34 128.82,723.7 128.98,735.78 129.14,735.94 129.3,725.13 129.46,710.83 129.62,715.15 129.78,707.14 129.94,729.64 130.1,718.49 130.26,724.59 130.42,712.08 130.58,715.78 130.74,729.93 130.9,724.03 131.06,733.56 131.22,725.22 131.38,722.36 131.54,720.6 131.7,721.2 131.86,727.23 132.02,733.9 132.18,723.15 132.34,730.88 132.5,710.7 132.66,709.2 132.82,709.09 132.98,728.96 133.14,711.12 133.3,725.29 133.46,731.49 133.62,712.6 133.78,717.55 133.94,734.29 134.1,710.57 134.26,720.58 134.42,711.31 134.58,726.3 134.74,739.44 134.9,740.04 135.06,732.91 135.22,731.61 135.38,730.31 135.54,712.67 135.7,709.92 135.86,728.41 136.02,724.12 136.18,716.12 136.34,719.2 136.5,713.58 136.66,727.38 136.82,730.11 136.98,704.07 137.14,711.15 137.3,709.9 137.46,706.79 137.62,742.58 137.78,706.76 137.94,709.9 138.1,707.47 138.26,692.61 138.42,718.34 138.58,715.66 138.74,710.27 138.9,732.04 139.06,693.66 139.22,707.45 139.38,729.99 139.54,726.38 139.7,716.41 139.86,713.19 140.02,722.1 140.18,711.42 140.34,722.5 140.5,713.1 140.66,702.19 140.82,702.56 140.98,708.16 141.14,702.73 141.3,727.03 141.46,708.62 141.62,708.85 141.78,704.5 141.94,707.68 142.1,729.81 142.26,706.86 142.42,708.79 142.58,698.94 142.74,713.77 142.9,705 143.06,698.67 143.22,701.23 143.38,699.57 143.54,737.59 143.7,728.55 143.86,702.81 144.02,722.83 144.18,722.11 144.34,713.33 144.5,717.24 144.66,723.79 144.82,713.62 144.98,719.61 145.14,726.29 145.3,715.11 145.46,697.04 145.62,722.39 145.78,727.47 145.94,698.9 146.1,739.82 146.26,710.67 146.42,688 146.58,711.74 146.74,686.66 146.9,713.07 147.06,697.65 147.22,703.66 147.38,704.01 147.54,701.96 147.7,727 147.86,707.58 148.02,717.3 148.18,715.04 148.34,697.41 148.5,703.07 148.66,704.62 148.82,695.07 148.98,738.09 149.14,701.57 149.3,717.39 149.46,709.44 149.62,726.41 149.78,704.29 149.94,709.41 150.1,696.53 150.26,726.06 150.42,706.38 150.58,723.8 150.74,696.67 150.9,702.11 151.06,713 151.22,702.52 151.38,705.18 151.54,721.48 151.7,698.41 151.86,715.06 152.02,716.43 152.18,705.11 152.34,703.6 152.5,703.74 152.66,722.86 152.82,693.16 152.98,700.78 153.14,735.62 153.3,704.04 153.46,701.24 153.62,690.33 153.78,712.5 153.94,723.08 154.1,702.19 154.26,716.99 154.42,692.95 154.58,704.62 154.74,709.41 154.9,694.36 155.06,704.71 155.22,696.03 155.38,706.9 155.54,708.85 155.7,704.5 155.86,699.41 156.02,711.81 156.18,698.71 156.34,712.14 156.5,711.24 156.66,706.68 156.82,708.16 156.98,701.25 157.14,704.13 157.3,698.31 157.46,707.98 157.62,702.03 157.78,696.76 157.94,726.71 158.1,696.85 158.26,713.65 158.42,708.03 158.58,711.44 158.74,714.56 158.9,692.8 159.06,701.79 159.22,703.17 159.38,714.94 159.54,693.57 159.7,713.18 159.86,719.42 160.02,691.66 160.18,717.99 160.34,703.7 160.5,713.32 160.66,693.79 160.82,692.38 160.98,710.52 161.14,716.39 161.3,712.67 161.46,685.05 161.62,708.46 161.78,692.58 161.94,708.13 162.1,692.09 162.26,704.67 162.42,700.5 162.58,706.97 162.74,729.7 162.9,698.28 163.06,696.02 163.22,705.25 163.38,726.85 163.54,689.33 163.7,709.04 163.86,696.43 164.02,716.54 164.18,689.7 164.34,701.31 164.5,694.62 164.66,710.83 164.82,694.82 164.98,698 165.14,695.57 165.3,711.36 165.46,717.04 165.62,694.25 165.78,701.07 165.94,716.84 166.1,700.34 166.26,717.52 166.42,690.21 166.58,723.68 166.74,697.95 166.9,691.02 167.06,694.3 167.22,704.11 167.38,697.84 167.54,713.29 167.7,701.64 167.86,690.98 168.02,700.96 168.18,705.06 168.34,699.76 168.5,697.67 168.66,691.24 168.82,694.37 168.98,701.63 169.14,710.04 169.3,706.96 169.46,706.75 169.62,699.53 169.78,711.83 169.94,680.81 170.1,698.44 170.26,716.17 170.42,696.21 170.58,697.76 170.74,688.81 170.9,714.86 171.06,715.59 171.22,686.36 171.38,701.95 171.54,711.13 171.7,711.81 171.86,702.77 172.02,725.39 172.18,705.86 172.34,697.72 172.5,710.75 172.66,694.26 172.82,695.66 172.98,683.25 173.14,693.22 173.3,691.66 173.46,706.17 173.62,700.47 173.78,715.82 173.94,692.42 174.1,713.5 174.26,703.67 174.42,709.78 174.58,696.86 174.74,696.12 174.9,695.91 175.06,693.84 175.22,696.47 175.38,693.9 175.54,725.75 175.7,695.07 175.86,706.63 176.02,691.53 176.18,711.11 176.34,713.68 176.5,719.25 176.66,679.77 176.82,712.27 176.98,695.79 177.14,714.38 177.3,704.89 177.46,694.63 177.62,692.56 177.78,695.63 177.94,706.36 178.1,689.05 178.26,707.06 178.42,697.17 178.58,710.19 178.74,690.45 178.9,699.39 179.06,705.95 179.22,693.15 179.38,699.77 179.54,697.02 179.7,697.14 179.86,698.34 180.02,711.93 180.18,698.5 180.34,708.26 180.5,688.92 180.66,700.09 180.82,699.62 180.98,701.07 181.14,689.16 181.3,705.86 181.46,691.14 181.62,698.65 181.78,692.65 181.94,702.64 182.1,691.66 182.26,710.16 182.42,694.02 182.58,713.81 182.74,701.58 182.9,717.3 183.06,707.01 183.22,705.73 183.38,705.21 183.54,693.97 183.7,703.72 183.86,684.43 184.02,695.31 184.18,712.45 184.34,682.19 184.5,699.06 184.66,711.14 184.82,705.86 184.98,695.35 185.14,698.45 185.3,693.49 185.46,720 185.62,705.02 185.78,710.72 185.94,699.28 186.1,719.66 186.26,700.36 186.42,689.87 186.58,690.96 186.74,709.1 186.9,690.23 187.06,698.66 187.22,692.36 187.38,714.74 187.54,710.01 187.7,714.33 187.86,713.67 188.02,693.11 188.18,712.96 188.34,720.79 188.5,697.21 188.66,712.26 188.82,695.4 188.98,701.24 189.14,704.74 189.3,698.44 189.46,699.24 189.62,696.01 189.78,698.55 189.94,695.64 190.1,690.09 190.26,713.69 190.42,702.24 190.58,711.86 190.74,702.59 190.9,707.77 191.06,698.48 191.22,692.59 191.38,690.93 191.54,704.59 191.7,696.43 191.86,696.77 192.02,711.07 192.18,711.71 192.34,707.9 192.5,696.27 192.66,699.49 192.82,690.13 192.98,704.38 193.14,687.7 193.3,691.66 193.46,694.62 193.62,703.7 193.78,704.54 193.94,692.43 194.1,695.12 194.26,691.51 194.42,710.48 194.58,699 194.74,689.51 194.9,702.86 195.06,704.85 195.22,711.83 195.38,695.29 195.54,690.41 195.7,699.04 195.86,690.8 196.02,689.73 196.18,711.61 196.34,694.17 196.5,701.36 196.66,708.48 196.82,696.75 196.98,690.72 197.14,707.66 197.3,689.79 197.46,706.71 197.62,706.6 197.78,694.85 197.94,695 198.1,719.46 198.26,710.97 198.42,691 198.58,704.99 198.74,710.25 198.9,696.44 199.06,709.64 199.22,701.1 199.38,709.77 199.54,694.43 199.7,709.89 199.86,698.47 200.02,698.26 200.18,709.89 200.34,708.13 200.5,700.22 200.66,690.32" stroke="#000000" stroke-width="1" fill="none" stroke-linejoin="bevel"/>
<polyline points="109.5,1030 110.3,900 112,785" stroke="#000000" stroke-width="1.7" fill="none" />
<polyline points="203.6,1030 203.72,1014.4 203.84,998.8 203.96,983.2 204.08,967.6 204.2,952 204.32,936.4 204.44,920.8 204.56,905.2 204.68,893.85 204.8,886.6 204.92,878.51 205.04,870.78 205.16,862.04 205.28,857.24 205.4,846.9 205.52,840.91 205.64,830.13 205.76,827.13 205.88,817.31 206,810.97 206.12,802.56 206.24,792.72 206.36,786.98 206.52,790.45 206.68,783.02 206.84,785.79 207,779.24 207.16,783.08 207.32,777.72 207.48,776.11 207.64,769.71 207.8,781.78 207.96,775.68 208.12,769.32 208.28,776.89 208.44,759.43 208.6,770.51 208.76,775.32 208.92,773.6 209.08,757.53 209.24,770.62 209.4,755.28 209.56,763.48 209.72,756.48 209.88,758.57 210.04,755.78 210.2,755.15 210.36,762.56 210.52,749.39 210.68,747.66 210.84,759.56 211,757.41 211.16,752.03 211.32,762.19 211.48,761.72 211.64,738.28 211.8,753.11 211.96,762.61 212.12,761.32 212.28,752.74 212.44,752.52 212.6,766.35 212.76,747.8 212.92,744.19 213.08,752.61 213.24,740.78 213.4,750.51 213.56,746.61 213.72,752.41 213.88,748.41 214.04,757.3 214.2,747.51 214.36,737.8 214.52,738.24 214.68,757.39 214.84,748.42 215,734.94 215.16,738.77 215.32,737.87 215.48,754.63 215.64,753.82 215.8,730.44 215.96,741.6 216.12,756.03 216.28,730.19 216.44,749.29 216.6,720.57 216.76,744.6 216.92,740.33 217.08,748.35 217.24,749.64 217.4,751.65 217.56,745.77 217.72,736.64 217.88,730.59 218.04,749.26 218.2,744.92 218.36,739.1 218.52,744.44 218.68,745.8 218.84,731.97 219,748.41 219.16,740.23 219.32,727.44 219.48,730.72 219.64,752.49 219.8,728.71 219.96,740.98 220.12,740.02 220.28,748.87 220.44,736.85 220.6,731 220.76,736.05 220.92,728.17 221.08,734.7 221.24,757.81 221.4,719.1 221.56,744.15 221.72,731.49 221.88,745.15 222.04,738.8 222.2,746.65 222.36,729.33 222.52,745.68 222.68,741.39 222.84,739.14 223,750.82 223.16,741.13 223.32,746.23 223.48,730.69 223.64,725.56 223.8,732.21 223.96,729.49 224.12,728.94 224.28,726.8 224.44,755.42 224.6,730.51 224.76,739.35 224.92,747.32 225.08,729.59 225.24,722.99 225.4,729.95 225.56,735.93 225.72,737.33 225.88,726.13 226.04,728.47 226.2,736.82 226.36,725 226.52,742.69 226.68,731.18 226.84,737.21 227,748.03 227.16,745.65 227.32,737.62 227.48,733.25 227.64,720.7 227.8,738.25 227.96,721.61 228.12,742.64 228.28,734.45 228.44,744.73 228.6,724.89 228.76,735.32 228.92,722.04 229.08,737.93 229.24,725.85 229.4,729.58 229.56,736.94 229.72,727.34 229.88,717.01 230.04,755.06 230.2,730.65 230.36,720.31 230.52,728.32 230.68,718.53 230.84,725.82 231,732.09 231.16,723.83 231.32,722.71 231.48,749.27 231.64,727.02 231.8,722.9 231.96,743.98 232.12,738.33 232.28,723.86 232.44,731.86 232.6,737.7 232.76,750.55 232.92,746.46 233.08,750.88 233.24,737.33 233.4,731.83 233.56,732.15 233.72,731.09 233.88,719.33 234.04,726.63 234.2,715.68 234.36,713.59 234.52,740.08 234.68,723.39 234.84,735.94 235,719.75 235.16,724.59 235.32,724.73 235.48,739.91 235.64,702.29 235.8,724.03 235.96,723.39 236.12,748.36 236.28,730.89 236.44,734.13 236.6,713.03 236.76,737.71 236.92,723.26 237.08,699.51 237.24,716.61 237.4,724.24 237.56,727.07 237.72,732.3 237.88,720.58 238.04,730.52 238.2,732.37 238.36,726.05 238.52,729.35 238.68,736.7 238.84,706.94 239,703.37 239.16,726.77 239.32,733.85 239.48,717.86 239.64,730.36 239.8,713.08 239.96,711.45 240.12,712.8 240.28,722.26 240.44,721.42 240.6,730.54 240.76,715.94 240.92,727.15 241.08,725.49 241.24,729.22 241.4,699.98 241.56,719.95 241.72,718.27 241.88,725.02 242.04,731.17 242.2,706.56 242.36,719.25 242.52,731.1 242.68,707.5 242.84,730.76 243,723.37 243.16,731.74 243.32,726.58 243.48,716.23 243.64,722.4 243.8,711.59 243.96,733.63 244.12,723.69 244.28,719.3 244.44,712.83 244.6,728.96 244.76,707.58 244.92,728.15 245.08,722.23 245.24,731.35 245.4,718.91 245.56,710.14 245.72,709.79 245.88,715.17 246.04,716.27 246.2,708.53 246.36,738.92 246.52,722.88 246.68,708.45 246.84,714.02 247,704.17 247.16,740.27 247.32,731.14 247.48,706.17 247.64,720.95 247.8,706.99 247.96,713.12 248.12,714.19 248.28,696.26 248.44,716.39 248.6,729.79 248.76,742.14 248.92,705.06 249.08,709.24 249.24,729.68 249.4,707.53 249.56,713.05 249.72,723.38 249.88,729.86 250.04,703.45 250.2,702.41 250.36,709.17 250.52,723.41 250.68,715.68 250.84,710.64 251,693.57 251.16,718.57 251.32,704.03 251.48,708.43 251.64,714.99 251.8,707.68 251.96,720.6 252.12,691.82 252.28,724.99 252.44,718.53 252.6,722.29 252.76,728.36 252.92,711.31 253.08,694.32 253.24,724.05 253.4,718.18 253.56,706.07 253.72,735.32 253.88,725.02 254.04,711.37 254.2,707.11 254.36,708.86 254.52,713.37 254.68,725.41 254.84,727.52 255,692.11 255.16,701.94 255.32,726.95 255.48,705.91 255.64,705.11 255.8,710.23 255.96,722.41 256.12,702 256.28,710.67 256.44,712.59 256.6,720.7 256.76,705.74 256.92,698.37 257.08,705.23 257.24,721.83 257.4,703.63 257.56,714.44 257.72,722.85 257.88,718.95 258.04,700.43 258.2,714.81 258.36,705.24 258.52,734.46 258.68,711.22 258.84,704.13 259,723.6 259.16,707.67 259.32,699.41 259.48,702.69 259.64,724.33 259.8,731.2 259.96,705.53 260.12,723.48 260.28,705.32 260.44,719.17 260.6,717.55 260.76,711.45 260.92,702.94 261.08,715.79 261.24,694.87 261.4,697.96 261.56,696.5 261.72,698.72 261.88,710.04 262.04,694.12 262.2,715.22 262.36,718.02 262.52,706.89 262.68,706.19 262.84,695.75 263,700.92 263.16,710.03 263.32,695.88 263.48,718.61 263.64,699.12 263.8,712.02 263.96,703.88 264.12,692.61 264.28,712.42 264.44,709.62 264.6,683.38 264.76,698.7 264.92,704.35 265.08,715.12 265.24,715.32 265.4,692.74 265.56,719.3 265.72,698.29 265.88,709.48 266.04,706.36 266.2,723.34 266.36,697.13 266.52,702.08 266.68,703.64 266.84,688.36 267,697.86 267.16,697.98 267.32,717.07 267.48,697.08 267.64,702.36 267.8,697.94 267.96,708.44 268.12,706.76 268.28,704.27 268.44,702.76 268.6,693.27 268.76,692.65 268.92,700.65 269.08,695.73 269.24,704.55 269.4,706.31 269.56,707.41 269.72,709.11 269.88,704.26 270.04,701.88 270.2,695.17 270.36,703.03 270.52,705.11 270.68,720.04 270.84,697.34 271,695.71 271.16,694.09 271.32,684.91 271.48,722.04 271.64,725.38 271.8,709.72 271.96,716.2 272.12,714.52 272.28,706.77 272.44,693.28 272.6,695.37 272.76,690.09 272.92,713.79 273.08,694.97 273.24,705.33 273.4,698.99 273.56,698.86 273.72,690.44 273.88,715.34 274.04,711.19 274.2,704.62 274.36,711.09 274.52,695.04 274.68,696.82 274.84,703.62 275,686.93 275.16,714.6 275.32,695.1 275.48,709.19 275.64,697.15 275.8,709.57 275.96,713.62 276.12,693.22 276.28,713.55 276.44,713.02 276.6,720.28 276.76,711.87 276.92,701.18 277.08,700.53 277.24,705.12 277.4,695.98 277.56,695.74 277.72,704.67 277.88,688.68 278.04,696.94 278.2,701.65 278.36,712.3 278.52,697.84 278.68,713.01 278.84,700.19 279,690.3 279.16,712.29 279.32,699.52 279.48,709.84 279.64,707.76 279.8,709.52 279.96,689.61 280.12,699.18 280.28,690.37 280.44,702.25 280.6,694.72 280.76,702.29 280.92,713.42 281.08,676.34 281.24,687.67 281.4,682.06 281.56,699.72 281.72,702.16 281.88,711.43 282.04,695.75 282.2,688.93 282.36,687.55 282.52,689.19 282.68,706.42 282.84,705.91 283,677.8 283.16,688.29 283.32,691.7 283.48,676.32 283.64,686.02 283.8,700.68 283.96,675.98 284.12,709.32 284.28,700.38 284.44,685.29 284.6,706.35 284.76,707.42 284.92,691.89 285.08,708.84 285.24,708.48 285.4,693.85 285.56,689.38 285.72,706.26 285.88,704.03 286.04,687.86 286.2,688.1 286.36,690.71 286.52,686.06 286.68,692.99 286.84,684.59 287,704.23 287.16,689.06 287.32,689.97 287.48,683.42 287.64,691.28 287.8,700.65 287.96,689.23 288.12,685.46 288.28,703.76 288.44,686.08 288.6,700.61 288.76,706.64 288.92,706.36 289.08,687.48 289.24,684.88 289.4,688.16 289.56,696.55 289.72,687.6 289.88,686.63 290.04,684.2 290.2,695.01 290.36,700.86 290.52,697.8 290.68,688.71 290.84,682.78 291,702.55 291.16,697.57 291.32,694.86 291.48,693.16 291.64,681.79 291.8,685.87 291.96,698.5 292.12,690.27 292.28,699.83 292.44,701.97 292.6,686.7 292.76,713.67 292.92,708.53 293.08,688.38 293.24,683.86 293.4,702.75 293.56,697.46 293.72,672.83 293.88,698.42 294.04,697.85 294.2,694.93 294.36,693.15 294.52,691.32 294.68,702.34 294.84,693.15 295,681.02 295.16,695.04 295.32,700.65 295.48,695.91 295.64,695.42 295.8,706.54 295.96,697.01 296.12,695.5 296.28,696.78 296.44,684.57 296.6,701.75 296.76,701.24 296.92,696.17 297.08,693.21 297.24,678.22 297.4,687.83 297.56,700.72 297.72,696.31 297.88,705.05 298.04,696.61 298.2,683 298.36,680.52 298.52,678.46 298.68,679.53 298.84,688.5 299,694.1 299.16,703.98 299.32,693.71 299.48,693.87 299.64,681.66 299.8,678.37 299.96,699.65 300.12,679.14 300.28,696.82 300.44,680.31 300.6,675.18 300.76,675.9 300.92,682.63 301.08,682.69 301.24,678.74 301.4,689.39 301.56,689.02 301.72,709.82 301.88,676.38 302.04,700.04 302.2,676.88 302.36,685.45 302.52,688.28 302.68,667.23 302.84,698.65 303,680.29 303.16,677.19 303.32,708.38 303.48,678.3 303.64,696.03 303.8,677.67 303.96,695.52 304.12,681.81 304.28,695.29 304.44,682.81 304.6,682.76 304.76,679.14 304.92,708.69 305.08,685.98 305.24,676.66 305.4,688.25 305.56,691.13 305.72,684.32 305.88,674.47 306.04,705 306.2,682.16 306.36,702.13 306.52,673.18 306.68,696.42 306.84,664.48 307,696.71 307.16,679.6 307.32,687.05 307.48,676.63 307.64,680.17 307.8,698.4 307.96,695.36 308.12,698.05 308.28,693.73 308.44,705.68 308.6,686.79 308.76,684.15 308.92,678.9 309.08,695.61 309.24,666.82 309.4,689.96 309.56,686.67 309.72,697.11 309.88,676.76 310.04,677.29 310.2,697.73 310.36,691.34 310.52,693.83 310.68,674.85 310.84,690 311,682.61 311.16,689.53 311.32,695.71 311.48,693.97 311.64,692.42 311.8,683.61 311.96,693.46 312.12,687.14 312.28,683.78 312.44,688.79 312.6,697.12 312.76,682.4 312.92,679.31 313.08,680.16 313.24,666.36 313.4,674.3 313.56,689.06 313.72,694.46 313.88,693.92 314.04,695.24 314.2,672.55 314.36,677.72 314.52,687.93 314.68,670.94 314.84,689.55 315,689.03 315.16,699.91 315.32,691.41 315.48,695.11 315.64,674.5 315.8,680.33 315.96,684.41 316.12,667.17 316.28,691.04 316.44,683.43 316.6,687.45 316.76,670.74 316.92,682.79 317.08,691.01 317.24,666.59 317.4,670.74 317.56,692.85 317.72,667.1 317.88,691.06 318.04,677.95 318.2,670.71 318.36,677.87 318.52,684.49 318.68,675.8 318.84,693.09" stroke="#ff0000" stroke-width="1" fill="none" stroke-linejoin="bevel"/>
<polyline points="203.6,1030 204.6,900 206.3,790" stroke="#ff0000" stroke-width="1.7" fill="none" />
<polyline points="321.8,1040 321.92,1023.2 322.04,1006.4 322.16,989.6 322.28,972.8 322.4,956 322.52,939.2 322.64,922.4 322.76,905.6 322.88,893.41 323,884.98 323.12,876.62 323.24,867.13 323.36,861.09 323.48,853.26 323.6,841.66 323.72,830.36 323.84,820.88 323.96,813.64 324.08,806.25 324.2,798.29 324.32,791.14 324.44,776.66 324.56,770.95 324.68,764.2 324.8,756.62 324.96,754.11 325.12,762.22 325.28,753.82 325.44,750.88 325.6,756.21 325.76,754.99 325.92,756.85 326.08,749.48 326.24,753.73 326.4,740.4 326.56,753.39 326.72,742.56 326.88,749.13 327.04,744 327.2,745.94 327.36,741.34 327.52,750.01 327.68,729.15 327.84,738.66 328,732.04 328.16,747.44 328.32,740.35 328.48,742.78 328.64,724.94 328.8,733.96 328.96,735.41 329.12,719.05 329.28,746.73 329.44,739.73 329.6,721.79 329.76,741.06 329.92,717.5 330.08,737.55 330.24,717.75 330.4,727.53 330.56,729.58 330.72,717.86 330.88,731.19 331.04,721.64 331.2,719.27 331.36,743.34 331.52,725.17 331.68,734.29 331.84,732.43 332,708.07 332.16,723.98 332.32,717.68 332.48,728.58 332.64,707.12 332.8,720.44 332.96,715.84 333.12,715.39 333.28,729.15 333.44,732.17 333.6,712.09 333.76,727.6 333.92,706.57 334.08,723.14 334.24,724.56 334.4,715.16 334.56,712.7 334.72,720.34 334.88,727.12 335.04,709.05 335.2,715.81 335.36,730.48 335.52,707.96 335.68,710.14 335.84,711.55 336,724.77 336.16,728.43 336.32,725.81 336.48,713.74 336.64,716.21 336.8,709.69 336.96,729.04 337.12,709.46 337.28,704.08 337.44,703.66 337.6,729.23 337.76,713.04 337.92,713.68 338.08,713.59 338.24,727.51 338.4,698.8 338.56,709.14 338.72,724.42 338.88,710.91 339.04,708.42 339.2,706.56 339.36,727.43 339.52,723.91 339.68,710.01 339.84,715.92 340,706.31 340.16,719.08 340.32,718.47 340.48,707.53 340.64,711.89 340.8,726.61 340.96,726.55 341.12,709.84 341.28,698.23 341.44,704.88 341.6,715.65 341.76,722.87 341.92,712.42 342.08,719.52 342.24,712.26 342.4,726.78 342.56,706.41 342.72,700.9 342.88,717.79 343.04,720.73 343.2,701.67 343.36,702.08 343.52,728.06 343.68,715.39 343.84,692.55 344,721.45 344.16,703.15 344.32,714.26 344.48,709.92 344.64,727.83 344.8,720.88 344.96,704.71 345.12,701.49 345.28,694.42 345.44,709.89 345.6,692.16 345.76,715.15 345.92,727.64 346.08,719.9 346.24,708.26 346.4,727.14 346.56,710.06 346.72,702.98 346.88,698.93 347.04,725.48 347.2,716.3 347.36,705.54 347.52,701.88 347.68,721.07 347.84,699.82 348,707.68 348.16,714.08 348.32,726.18 348.48,732.76 348.64,726.69 348.8,716.11 348.96,708.83 349.12,709.19 349.28,715.41 349.44,707 349.6,713.27 349.76,715.19 349.92,723.61 350.08,718.17 350.24,711.08 350.4,701.44 350.56,712.43 350.72,712.32 350.88,704 351.04,720.59 351.2,715.34 351.36,722.5 351.52,698.15 351.68,720.59 351.84,700.3 352,703.89 352.16,706.82 352.32,711.44 352.48,699.04 352.64,724.83 352.8,709.18 352.96,719.03 353.12,700.53 353.28,706.63 353.44,702.89 353.6,705.73 353.76,696.52 353.92,712.12 354.08,691.87 354.24,721.79 354.4,703.27 354.56,710.57 354.72,698.14 354.88,722.7 355.04,717.62 355.2,715.75 355.36,696.55 355.52,722.77 355.68,712.44 355.84,701.93 356,698.77 356.16,722.73 356.32,711.41 356.48,690.69 356.64,716.26 356.8,709.67 356.96,720.24 357.12,695.37 357.28,707.68 357.44,718.29 357.6,707.86 357.76,706.84 357.92,708.82 358.08,713.24 358.24,705.57 358.4,728.57 358.56,715.86 358.72,700.25 358.88,717.08 359.04,696.36 359.2,709.78 359.36,686.28 359.52,695.22 359.68,705.44 359.84,721.8 360,718.17 360.16,702.88 360.32,693.51 360.48,701.06 360.64,702.08 360.8,717.47 360.96,707.55 361.12,694.46 361.28,717.5 361.44,717.14 361.6,698.54 361.76,730.41 361.92,712.79 362.08,718.97 362.24,705.48 362.4,711.29 362.56,692.67 362.72,722.4 362.88,704.73 363.04,698.16 363.2,709.46 363.36,712.71 363.52,697.79 363.68,716.27 363.84,695.79 364,714.9 364.16,692.18 364.32,712.59 364.48,697.9 364.64,712.78 364.8,706.65 364.96,713.47 365.12,706 365.28,697.03 365.44,692.68 365.6,714.79 365.76,703.65 365.92,715.64 366.08,694.77 366.24,703.57 366.4,715.63 366.56,710.82 366.72,699.5 366.88,706.2 367.04,717.38 367.2,697.07 367.36,699.75 367.52,698.65 367.68,710 367.84,694.49 368,699.64 368.16,691.24 368.32,708.7 368.48,708.59 368.64,692.01 368.8,690.38 368.96,714.98 369.12,695.33 369.28,698.09 369.44,710.81 369.6,702.57 369.76,710.8 369.92,705.38 370.08,705.28 370.24,688.69 370.4,692.84 370.56,693.27 370.72,701.92 370.88,698.46 371.04,711.65 371.2,708.43 371.36,708.96 371.52,692.13 371.68,688.41 371.84,682.27 372,698.96 372.16,689.14 372.32,707.81 372.48,705.63 372.64,686.67 372.8,710.35 372.96,693.73 373.12,692.95 373.28,693.72 373.44,695.13 373.6,701.99 373.76,718.84 373.92,696.99 374.08,688.91 374.24,710.17 374.4,710.59 374.56,679.18 374.72,701.11 374.88,691.15 375.04,688.84 375.2,685.16 375.36,699.07 375.52,709.67 375.68,700.54 375.84,700.89 376,704.09 376.16,681.34 376.32,686.11 376.48,705.49 376.64,691.78 376.8,704.83 376.96,688.01 377.12,709.56 377.28,683.36 377.44,686.58 377.6,686.99 377.76,704.36 377.92,708.72 378.08,702.31 378.24,673.22 378.4,695.9 378.56,707.71 378.72,699.68 378.88,699.21 379.04,703.78 379.2,701.64 379.36,685.32 379.52,700.07 379.68,684.24 379.84,707.52 380,701.78 380.16,703.32 380.32,692.46 380.48,702.54 380.64,688.2 380.8,694.88 380.96,682.57 381.12,702.1 381.28,703.46 381.44,684.55 381.6,685.55 381.76,705.11 381.92,699.18 382.08,701.2 382.24,698.11 382.4,702.17 382.56,680.32 382.72,702.22 382.88,694.98 383.04,700.68 383.2,713.46 383.36,702.93 383.52,689.02 383.68,681.07 383.84,679.14 384,690.37 384.16,708.32 384.32,697.18 384.48,695.93 384.64,679.93 384.8,677.53 384.96,681.67 385.12,704.42 385.28,682.72 385.44,694.04 385.6,687.61 385.76,704.1 385.92,705.01 386.08,700.28 386.24,691.27 386.4,673.25 386.56,692.26 386.72,697.25 386.88,704.5 387.04,697.6 387.2,679.3 387.36,682.73 387.52,690.36 387.68,682.98 387.84,684.07 388,695.24 388.16,698.79 388.32,710.21 388.48,675.33 388.64,700.93 388.8,685.79 388.96,689.72 389.12,692.45 389.28,702.45 389.44,674.62 389.6,682.35 389.76,701.36 389.92,703.64 390.08,691.54 390.24,692.59 390.4,696.82 390.56,710.67 390.72,693.84 390.88,702.23 391.04,694.13 391.2,678.46 391.36,697.99 391.52,683.8 391.68,688.71 391.84,678.21 392,678.4 392.16,674.88 392.32,684.53 392.48,701.55 392.64,682.23 392.8,678.86 392.96,685.9 393.12,680.58 393.28,684.21 393.44,680.65 393.6,699.52 393.76,697.34 393.92,695.55 394.08,677 394.24,686.32 394.4,692.17 394.56,680.44 394.72,699.32 394.88,680.69 395.04,679.78 395.2,673.28 395.36,688.7 395.52,699.65 395.68,679.04 395.84,663.65 396,683.91 396.16,674.95 396.32,690.62 396.48,690.23 396.64,694.32 396.8,699.14 396.96,681.42 397.12,695.04 397.28,676.69 397.44,686.83 397.6,690.82 397.76,674.95 397.92,672.89 398.08,685.69 398.24,690.52 398.4,682.66 398.56,678.79 398.72,694 398.88,675.09 399.04,692.97 399.2,697.25 399.36,692.62 399.52,689.8 399.68,674.28 399.84,691.42 400,678.52 400.16,707.32 400.32,679.48 400.48,687.3 400.64,672.44 400.8,667.38 400.96,676.59 401.12,693.17 401.28,685.21 401.44,687.85 401.6,670.74 401.76,684.05 401.92,678.7 402.08,699.31 402.24,676.66 402.4,694.86 402.56,699.61 402.72,691.53 402.88,674.74 403.04,677.65 403.2,699.03 403.36,672.01 403.52,681.38 403.68,681.93 403.84,696.76 404,711.12 404.16,700.05 404.32,684 404.48,683.22 404.64,691.26 404.8,679.61 404.96,681.52 405.12,674.85 405.28,685.09 405.44,674.88 405.6,674.81 405.76,686.44 405.92,699.69 406.08,698.89 406.24,691.62 406.4,670.29 406.56,668.64 406.72,691.57 406.88,676.68 407.04,673.39 407.2,700.33 407.36,669.41 407.52,679.53 407.68,694.22 407.84,671.17 408,672.83 408.16,683.23 408.32,697.74 408.48,683.35 408.64,671.82 408.8,686.2 408.96,674.42 409.12,668.13 409.28,691.03 409.44,700.05 409.6,691.76 409.76,694.41 409.92,671.66 410.08,658.11 410.24,668 410.4,699.83 410.56,693.32 410.72,686.3 410.88,695.96 411.04,685.81 411.2,692.91 411.36,666.98 411.52,678.77 411.68,669.98 411.84,698.9 412,686.13 412.16,690 412.32,692.62 412.48,691.15 412.64,672.16 412.8,696.06 412.96,691.04 413.12,696.7 413.28,670.26 413.44,679.38 413.6,693.84 413.76,666.36 413.92,691.89 414.08,691.63 414.24,674.56 414.4,673.1 414.56,702.74 414.72,698.11 414.88,689.23 415.04,688.07 415.2,675.24 415.36,666.9 415.52,669.82 415.68,690.41 415.84,693.68 416,683.66 416.16,692.94 416.32,697.28 416.48,659.03 416.64,683.28 416.8,686.36 416.96,668.98 417.12,706.19 417.28,685.14 417.44,672.67 417.6,694.37 417.76,690.03 417.92,688.8 418.08,686.81 418.24,683.7 418.4,669.37 418.56,695.65 418.72,669.44 418.88,676.7" stroke="#00ff00" stroke-width="1" fill="none" stroke-linejoin="bevel"/>
<polyline points="321.8,1040 322.8,900 324.7,760" stroke="#00ff00" stroke-width="1.7" fill="none" />
<polyline points="420.8,1025 420.92,1008.33 421.04,991.67 421.16,975 421.28,958.33 421.4,941.67 421.52,925 421.64,908.33 421.76,895.16 421.88,885.01 422,874.09 422.12,862.42 422.24,855.9 422.36,847.97 422.48,839.23 422.6,831.64 422.72,820.26 422.84,798.19 422.96,803.63 423.08,795.36 423.2,782.46 423.32,766.09 423.44,756.62 423.56,753.59 423.72,756.78 423.88,758.09 424.04,761.96 424.2,746.58 424.36,748.49 424.52,734.41 424.68,755.33 424.84,729.92 425,747.53 425.16,753.25 425.32,747.97 425.48,745.06 425.64,735.37 425.8,746.03 425.96,752.16 426.12,750.85 426.28,751.45 426.44,731.72 426.6,748.47 426.76,754.8 426.92,748.08 427.08,738.51 427.24,746.66 427.4,730.76 427.56,745.56 427.72,742.21 427.88,734.45 428.04,737.63 428.2,718.38 428.36,748.58 428.52,709.96 428.68,717.84 428.84,736.06 429,729.81 429.16,741.3 429.32,740.5 429.48,725.86 429.64,719.3 429.8,739.25 429.96,727.09 430.12,719.57 430.28,735.95 430.44,719.2 430.6,722.62 430.76,737.08 430.92,715.1 431.08,731.36 431.24,719.65 431.4,742.99 431.56,722.67 431.72,727.85 431.88,713.02 432.04,701.33 432.2,726.41 432.36,721.18 432.52,720.99 432.68,729.29 432.84,736.24 433,731.71 433.16,710.19 433.32,734.96 433.48,733.77 433.64,734.73 433.8,708.62 433.96,719.22 434.12,716.2 434.28,722.01 434.44,723.79 434.6,719.15 434.76,734.17 434.92,719.33 435.08,704.49 435.24,720.17 435.4,722.51 435.56,712.54 435.72,722.39 435.88,733.96 436.04,708.73 436.2,720.74 436.36,710.18 436.52,711.24 436.68,712.62 436.84,718.17 437,706.7 437.16,713.64 437.32,723.54 437.48,707.53 437.64,717.9 437.8,704.03 437.96,718.51 438.12,739.87 438.28,695.05 438.44,707.1 438.6,714.12 438.76,712.06 438.92,738.63 439.08,722.63 439.24,740.36 439.4,708.34 439.56,740.61 439.72,710.53 439.88,707.33 440.04,694.15 440.2,733.43 440.36,715.79 440.52,715.05 440.68,718.57 440.84,724.48 441,729.03 441.16,706.76 441.32,709.32 441.48,709.76 441.64,700.47 441.8,704.26 441.96,699.49 442.12,706.65 442.28,715.11 442.44,702.91 442.6,702.25 442.76,702.97 442.92,713.43 443.08,723.65 443.24,693.44 443.4,721.56 443.56,705.43 443.72,704.47 443.88,719.15 444.04,718.13 444.2,710.2 444.36,725.17 444.52,699.67 444.68,702.54 444.84,699.55 445,705.88 445.16,717.27 445.32,709.82 445.48,712.11 445.64,707.46 445.8,712.71 445.96,713.57 446.12,707.52 446.28,723.69 446.44,708.17 446.6,703.7 446.76,716.16 446.92,727.75 447.08,722.17 447.24,705.65 447.4,722.99 447.56,709.01 447.72,723.23 447.88,698.15 448.04,710.9 448.2,699.23 448.36,705.84 448.52,706 448.68,705.48 448.84,713.16 449,698.15 449.16,719.9 449.32,713.06 449.48,707.52 449.64,709.93 449.8,715.94 449.96,717.34 450.12,713.42 450.28,705.33 450.44,711.9 450.6,709.56 450.76,700.92 450.92,715.56 451.08,717.76 451.24,698.21 451.4,730.44 451.56,710.07 451.72,693.72 451.88,713.75 452.04,695.08 452.2,690.86 452.36,697.82 452.52,718.31 452.68,699.4 452.84,683.26 453,696.72 453.16,707.21 453.32,704.14 453.48,699.54 453.64,688.47 453.8,693.82 453.96,722.79 454.12,701.14 454.28,695.73 454.44,719.66 454.6,712.82 454.76,703.42 454.92,691.82 455.08,693.29 455.24,693.01 455.4,713.54 455.56,704.23 455.72,708.49 455.88,704.13 456.04,691.04 456.2,696.68 456.36,703.42 456.52,704.57 456.68,699.68 456.84,682.61 457,698.32 457.16,709.56 457.32,715.43 457.48,698.62 457.64,697.13 457.8,696.09 457.96,713.03 458.12,716.7 458.28,698.25 458.44,709.84 458.6,719.84 458.76,686.58 458.92,714.06 459.08,694.75 459.24,703.44 459.4,699.3 459.56,703.95 459.72,691.9 459.88,699.79 460.04,695.92 460.2,694.98 460.36,702.14 460.52,710.38 460.68,701.16 460.84,714.88 461,691.34 461.16,706.34 461.32,689.3 461.48,713.94 461.64,701.3 461.8,696.54 461.96,721.43 462.12,699.07 462.28,715.14 462.44,725.25 462.6,702.73 462.76,696.6 462.92,704.68 463.08,694.31 463.24,710.31 463.4,697.66 463.56,700.3 463.72,689.86 463.88,713.81 464.04,698.08 464.2,692.3 464.36,708.49 464.52,692.65 464.68,708.08 464.84,700.71 465,701.27 465.16,687.46 465.32,709.66 465.48,714.19 465.64,695.35 465.8,710.45 465.96,705.03 466.12,677.53 466.28,686.51 466.44,703.33 466.6,713.05 466.76,710.05 466.92,693.49 467.08,696.5 467.24,696.54 467.4,692.19 467.56,697.32 467.72,710.76 467.88,692.48 468.04,708.27 468.2,706.05 468.36,708.39 468.52,703.88 468.68,709.02 468.84,700.44 469,708.34 469.16,708.94 469.32,709.86 469.48,711.48 469.64,704.01 469.8,686.14 469.96,700.23 470.12,694.26 470.28,706.74 470.44,690.58 470.6,691.51 470.76,693.65 470.92,680.98 471.08,686.17 471.24,689.81 471.4,695.51 471.56,711.08 471.72,701.9 471.88,697.25 472.04,704.64 472.2,708.55 472.36,686.72 472.52,707.15 472.68,697.29 472.84,708.47 473,689.31 473.16,693.65 473.32,703.03 473.48,709.17 473.64,713.16 473.8,711.44 473.96,691.23 474.12,704.08 474.28,705.41 474.44,684.36 474.6,709.5 474.76,687.06 474.92,684.68 475.08,691.75 475.24,697.06 475.4,696.29 475.56,682.48 475.72,699.4 475.88,705.82 476.04,686.64 476.2,672.97 476.36,708.27 476.52,682.38 476.68,707.41 476.84,708.96 477,708.26 477.16,685.53 477.32,704.41 477.48,698.56 477.64,689.11 477.8,695.86 477.96,683.67 478.12,718.98 478.28,703.42 478.44,687.47 478.6,687.4 478.76,705.8 478.92,701.38 479.08,693.83 479.24,686.63 479.4,692.59 479.56,694.37 479.72,671.18 479.88,696.28 480.04,689.27 480.2,686.2 480.36,691.69 480.52,708.67 480.68,704.92 480.84,692.28 481,697.98 481.16,683.61 481.32,683.01 481.48,691.46 481.64,701.6 481.8,692.93 481.96,694.18 482.12,693.83 482.28,685.72 482.44,690.03 482.6,674.22 482.76,688.97 482.92,690.06 483.08,703.78 483.24,678.65 483.4,699.68 483.56,696.73 483.72,689.98 483.88,686.89 484.04,697.49 484.2,705.81 484.36,688.65 484.52,701.04 484.68,697.64 484.84,705.42 485,689.43 485.16,680.93 485.32,700.98 485.48,715.36 485.64,685.39 485.8,677.82 485.96,700.46 486.12,704.7 486.28,684.5 486.44,693.58 486.6,677.34 486.76,678.75 486.92,695.28 487.08,710.23 487.24,704.42 487.4,679.05 487.56,698.45 487.72,685.98 487.88,689.65 488.04,705.27 488.2,680.05 488.36,692.99 488.52,699.45 488.68,701.32 488.84,714.94 489,679.73 489.16,698.85 489.32,705.29 489.48,674.26 489.64,713.49 489.8,680.36 489.96,682.35 490.12,696.47 490.28,687.53 490.44,689.65 490.6,684.47 490.76,705.08 490.92,697.4 491.08,682.41 491.24,687.29 491.4,679 491.56,696.66 491.72,711.76 491.88,677.78 492.04,678.06 492.2,696.06 492.36,681.61 492.52,671.87 492.68,681.89 492.84,691.55 493,697.19 493.16,701.18 493.32,697.29 493.48,688.21 493.64,686.91 493.8,693.78 493.96,682.14 494.12,682.97 494.28,683.54 494.44,694.72 494.6,709.39 494.76,684.99 494.92,682.14 495.08,691.25 495.24,703.18 495.4,703.36 495.56,681.94 495.72,693.57 495.88,693.93 496.04,703.39 496.2,699.11 496.36,685.49 496.52,701.65 496.68,697.71 496.84,697.81 497,680.68 497.16,697.56 497.32,695.74 497.48,688.08 497.64,703.5 497.8,689.61 497.96,699.85 498.12,690.4 498.28,688.94 498.44,690.85 498.6,698.23 498.76,696.36 498.92,674.15 499.08,701.09 499.24,691.75 499.4,679.02 499.56,699.28 499.72,684.07 499.88,701.51 500.04,686.09 500.2,694.45 500.36,695.4 500.52,695.4 500.68,685.32 500.84,702.22 501,700.93 501.16,685.33 501.32,670.21 501.48,703.84 501.64,695 501.8,700.87 501.96,681.07 502.12,699.67 502.28,698.1 502.44,690.65 502.6,703.98 502.76,682.52 502.92,693.1 503.08,682.64 503.24,690.84 503.4,685.31 503.56,693.15 503.72,694.14 503.88,702.38 504.04,704.48 504.2,681.62 504.36,704.81 504.52,693.04 504.68,678.34 504.84,681 505,695.41 505.16,704.59 505.32,687.75 505.48,695.61 505.64,702.28 505.8,687.66 505.96,685.88 506.12,684.21 506.28,678.87 506.44,673.59 506.6,680.37 506.76,696.83 506.92,704.61 507.08,697.16 507.24,676.68 507.4,709.34 507.56,703.88 507.72,692.27 507.88,698.28 508.04,681.93 508.2,706.98 508.36,683.22 508.52,679.98 508.68,699.37 508.84,697.36 509,707.45 509.16,710.4 509.32,684.52 509.48,687.51 509.64,706.46 509.8,707.81 509.96,696.85 510.12,699.24 510.28,687.28 510.44,683.86 510.6,680.64 510.76,694.83 510.92,680.63 511.08,694.39 511.24,689 511.4,675.66 511.56,711.86 511.72,675.23 511.88,687.1 512.04,703.34 512.2,689.53 512.36,676.24 512.52,708.91 512.68,663.4 512.84,680.91 513,664.77 513.16,686.35 513.32,700.9 513.48,701.8 513.64,698.56 513.8,689.59" stroke="#0000ff" stroke-width="1" fill="none" stroke-linejoin="bevel"/>
<polyline points="420.8,1025 421.7,900 423.5,755" stroke="#0000ff" stroke-width="1.7" fill="none" />
<polyline points="516.3,1035 516.42,1018.8 516.54,1002.6 516.66,986.4 516.78,970.2 516.9,954 517.02,937.8 517.14,921.6 517.26,905.4 517.38,891.27 517.5,881.78 517.62,868.42 517.74,858.08 517.86,847.23 517.98,830.93 518.1,814.9 518.22,811.84 518.34,792.92 518.46,784.55 518.58,767.05 518.7,753.08 518.82,749.92 518.98,742.55 519.14,759.3 519.3,743.27 519.46,740.96 519.62,749.76 519.78,736.64 519.94,744.14 520.1,751.85 520.26,740.72 520.42,731.81 520.58,738.06 520.74,731.51 520.9,744.07 521.06,724.68 521.22,722.83 521.38,737.57 521.54,744.54 521.7,712.19 521.86,715.25 522.02,735.14 522.18,734.14 522.34,734.46 522.5,742.28 522.66,712.79 522.82,734.35 522.98,731.48 523.14,738.39 523.3,715.39 523.46,731.99 523.62,702.11 523.78,720.59 523.94,736.75 524.1,727.87 524.26,724.15 524.42,734.36 524.58,726.55 524.74,716.39 524.9,713.84 525.06,726.79 525.22,728.45 525.38,713.35 525.54,747.25 525.7,725.24 525.86,732.31 526.02,732.47 526.18,716.07 526.34,723.87 526.5,716.96 526.66,729.56 526.82,722.47 526.98,714.03 527.14,718.29 527.3,718.15 527.46,729.43 527.62,713.93 527.78,726.64 527.94,725.84 528.1,714.49 528.26,741.99 528.42,724.41 528.58,732.22 528.74,729.77 528.9,719.59 529.06,727.57 529.22,707.7 529.38,732.11 529.54,694.2 529.7,730.83 529.86,716.75 530.02,733.76 530.18,708.12 530.34,731.75 530.5,713.11 530.66,730.38 530.82,708.32 530.98,713.82 531.14,730.17 531.3,714.11 531.46,709.43 531.62,735.98 531.78,724.13 531.94,710.86 532.1,701.62 532.26,706.83 532.42,718.18 532.58,702.96 532.74,726.52 532.9,714.35 533.06,727.18 533.22,717.12 533.38,725.78 533.54,713.16 533.7,712.32 533.86,727.26 534.02,695.12 534.18,705.3 534.34,705.18 534.5,709.25 534.66,733.21 534.82,712.1 534.98,698.24 535.14,703.6 535.3,721.09 535.46,713.5 535.62,721.4 535.78,703.77 535.94,709.39 536.1,697.87 536.26,701.59 536.42,684.06 536.58,694.41 536.74,708.83 536.9,705.12 537.06,716.8 537.22,710.56 537.38,702.61 537.54,700.12 537.7,720.4 537.86,710.77 538.02,717.18 538.18,715.51 538.34,703.81 538.5,712.65 538.66,713.51 538.82,696.44 538.98,727.69 539.14,682.46 539.3,703.85 539.46,716.33 539.62,717.62 539.78,714.32 539.94,679.69 540.1,703.28 540.26,732.44 540.42,692.23 540.58,696.09 540.74,706.39 540.9,715.12 541.06,718.31 541.22,707.3 541.38,713.72 541.54,698.72 541.7,696.32 541.86,715.33 542.02,716.76 542.18,713.77 542.34,693.76 542.5,705.59 542.66,694.91 542.82,687.19 542.98,708.62 543.14,706 543.3,715.41 543.46,718.53 543.62,690.19 543.78,696.77 543.94,715.8 544.1,696.98 544.26,699.34 544.42,708.52 544.58,701.13 544.74,689.96 544.9,690.82 545.06,710.48 545.22,712.41 545.38,695.61 545.54,708.14 545.7,706.52 545.86,680.55 546.02,691.89 546.18,706.34 546.34,716.02 546.5,710.85 546.66,713.52 546.82,695.02 546.98,697.62 547.14,714.75 547.3,710.44 547.46,695.73 547.62,718.38 547.78,704.53 547.94,689.49 548.1,711.72 548.26,699.65 548.42,699.32 548.58,708.86 548.74,704.69 548.9,716.77 549.06,704.05 549.22,694.52 549.38,699.24 549.54,691.27 549.7,707.79 549.86,699.84 550.02,694.94 550.18,688.33 550.34,695.97 550.5,704.99 550.66,707.19 550.82,711.72 550.98,714.25 551.14,708.6 551.3,701.26 551.46,716.78 551.62,691.05 551.78,703.31 551.94,694.6 552.1,699.57 552.26,693.38 552.42,693.55 552.58,703.91 552.74,702.85 552.9,688.28 553.06,693.69 553.22,681.44 553.38,710.89 553.54,709.23 553.7,704.61 553.86,698.6 554.02,689.51 554.18,707.95 554.34,703.76 554.5,690.45 554.66,713.13 554.82,684.07 554.98,711.96 555.14,692.67 555.3,720.28 555.46,713.18 555.62,709.48 555.78,690.48 555.94,700.45 556.1,687.68 556.26,697.36 556.42,698.43 556.58,702.7 556.74,699.23 556.9,710.78 557.06,706.84 557.22,702.46 557.38,694.8 557.54,713.54 557.7,692.82 557.86,680.88 558.02,693.75 558.18,712.18 558.34,697.36 558.5,715.5 558.66,723.27 558.82,700.25 558.98,695.14 559.14,707.89 559.3,705.29 559.46,705.71 559.62,723.87 559.78,692.86 559.94,678.36 560.1,709.54 560.26,702.16 560.42,689.21 560.58,687.75 560.74,686.41 560.9,696.68 561.06,697.43 561.22,697.99 561.38,701.19 561.54,714.52 561.7,698.48 561.86,714.5 562.02,704.75 562.18,697.09 562.34,693.6 562.5,686.42 562.66,711.47 562.82,698.35 562.98,693.35 563.14,700.65 563.3,713.28 563.46,692.06 563.62,697.41 563.78,722.57 563.94,712.31 564.1,707.79 564.26,708.88 564.42,699.93 564.58,709.13 564.74,708.72 564.9,685.27 565.06,703.78 565.22,701.15 565.38,686.45 565.54,713.72 565.7,702.04 565.86,713.51 566.02,713.85 566.18,704.07 566.34,685.81 566.5,697.03 566.66,690.49 566.82,710.21 566.98,692.68 567.14,684.45 567.3,693.69 567.46,703.22 567.62,686.54 567.78,694.02 567.94,693.25 568.1,692.44 568.26,691.05 568.42,699.15 568.58,701.72 568.74,696.65 568.9,712.31 569.06,707.81 569.22,699.92 569.38,707.85 569.54,723.03 569.7,690.77 569.86,688.67 570.02,704.47 570.18,702.74 570.34,696.98 570.5,703.35 570.66,671.94 570.82,703.06 570.98,702.39 571.14,711.73 571.3,701.93 571.46,693.81 571.62,685.95 571.78,691.84 571.94,682.57 572.1,702.15 572.26,698.25 572.42,692.09 572.58,708.18 572.74,691.07 572.9,710.75 573.06,686.36 573.22,686.04 573.38,707.63 573.54,694.98 573.7,696.28 573.86,696.97 574.02,704.78 574.18,688.82 574.34,686.22 574.5,708.59 574.66,693.89 574.82,698.77 574.98,682.43 575.14,691.67 575.3,697.31 575.46,691.95 575.62,681.92 575.78,685.52 575.94,669.49 576.1,704.45 576.26,715.38 576.42,683.36 576.58,686.61 576.74,684.27 576.9,695.64 577.06,697.19 577.22,705.9 577.38,695.13 577.54,705.86 577.7,680.99 577.86,699 578.02,697.07 578.18,705.7 578.34,690.87 578.5,700.16 578.66,680.62 578.82,701.42 578.98,697.57 579.14,680.86 579.3,691.66 579.46,705.18 579.62,690.04 579.78,695.49 579.94,705.52 580.1,678.72 580.26,676.89 580.42,688.52 580.58,688.47 580.74,699.25 580.9,683.03 581.06,690.47 581.22,694.94 581.38,685.26 581.54,705.14 581.7,685.43 581.86,666.4 582.02,700.73 582.18,689.79 582.34,678.01 582.5,684.33 582.66,693.47 582.82,703.14 582.98,690.27 583.14,677.49 583.3,689.2 583.46,689.29 583.62,712.99 583.78,696.58 583.94,710.95 584.1,701.14 584.26,700.31 584.42,690.85 584.58,682.51 584.74,691.83 584.9,689.58 585.06,690.18 585.22,690.07 585.38,674.26 585.54,689.48 585.7,701.57 585.86,687.13 586.02,688.66 586.18,700.63 586.34,709.74 586.5,695.13 586.66,699.26 586.82,680.32 586.98,696.94 587.14,693.38 587.3,694.78 587.46,676.48 587.62,696.02 587.78,684.93 587.94,699.66 588.1,685.01 588.26,699.76 588.42,682.59 588.58,694.77 588.74,668.87 588.9,683.08 589.06,698.27 589.22,702.3 589.38,698.15 589.54,672.48 589.7,695.73 589.86,692.69 590.02,695.07 590.18,696.41 590.34,679.71 590.5,672.39 590.66,678.14 590.82,675.88 590.98,685.48 591.14,698.44 591.3,674.13 591.46,690.46 591.62,674.41 591.78,682.93 591.94,687.3 592.1,687.48 592.26,674.27 592.42,670.46 592.58,675.54 592.74,669.96 592.9,690.82 593.06,689.04 593.22,685.1 593.38,672.28 593.54,674.74 593.7,696.35 593.86,700.46 594.02,688.61 594.18,681.25 594.34,670.28 594.5,676.36 594.66,690.07 594.82,684.75 594.98,672.93 595.14,677.74 595.3,690.8 595.46,678.65 595.62,694.48 595.78,683.18 595.94,696.2 596.1,682.24 596.26,694.47 596.42,676.53 596.58,683.75 596.74,673.44 596.9,698.33 597.06,680.14 597.22,695.41 597.38,672.32 597.54,690.86 597.7,688.44 597.86,684.05 598.02,681.95 598.18,696.08 598.34,696.52 598.5,697.69 598.66,696.38 598.82,694.91 598.98,698.54 599.14,703.82 599.3,674.69 599.46,682.51 599.62,674.1 599.78,690.59 599.94,698.24 600.1,679.56 600.26,685.79 600.42,697.26 600.58,679.2 600.74,669.91 600.9,685.97 601.06,698.49 601.22,678.66 601.38,673 601.54,686.19 601.7,680.97 601.86,677.46 602.02,681.58 602.18,685.28 602.34,669.06 602.5,678.33 602.66,695.66 602.82,692.19 602.98,684.41 603.14,668.52 603.3,658.86 603.46,696.67 603.62,676.77 603.78,707.27 603.94,668.37 604.1,668.02 604.26,687.19 604.42,681.34 604.58,672.85 604.74,693.39 604.9,690.12 605.06,693.11 605.22,688.1 605.38,685.06 605.54,698.63 605.7,684.08 605.86,669.8 606.02,674.12 606.18,666.94 606.34,695.23 606.5,690.3 606.66,674.24 606.82,676.45 606.98,678.16 607.14,685.55 607.3,699.2 607.46,699.24 607.62,659.17 607.78,687.51 607.94,683.14 608.1,688.14 608.26,673.64 608.42,682.26 608.58,677.54 608.74,689.74 608.9,689.53 609.06,691.85 609.22,687.44 609.38,676.26 609.54,672.93 609.7,699.51 609.86,667.63 610.02,697.15 610.18,671.77 610.34,676.36 610.5,686.41 610.66,676.99 610.82,680.64 610.98,682.03 611.14,692.29 611.3,697.45 611.46,688.8 611.62,691.14 611.78,674.66 611.94,693.44 612.1,678.42 612.26,688.51 612.42,684.09 612.58,671.7 612.74,688.25 612.9,683.98 613.06,670.07 613.22,683.7 613.38,684.33 613.54,668.66 613.7,687.85 613.86,673.29 614.02,697.44 614.18,675.84 614.34,675.12 614.5,675.51 614.66,684.66 614.82,689.87 614.98,695.84 615.14,669.32 615.3,675.05 615.46,683.18 615.62,702.56 615.78,671.37 615.94,684.93" stroke="#8000ff" stroke-width="1" fill="none" stroke-linejoin="bevel"/>
<polyline points="516.3,1035 517.3,900 518.8,752" stroke="#8000ff" stroke-width="1.7" fill="none" />
<polyline points="618.3,1036 618.42,1022.4 618.54,1008.8 618.66,995.2 618.78,981.6 618.9,968 619.02,954.4 619.14,940.8 619.26,927.2 619.38,913.6 619.5,900 619.62,893.21 619.74,885.57 619.86,876.43 619.98,871.64 620.1,865.39 620.22,855.01 620.34,847.14 620.46,843.98 620.58,833.88 620.7,822.38 620.82,821.57 620.94,812.44 621.06,809.51 621.18,800.22 621.3,786.58 621.42,780.41 621.54,767.2 621.66,765.04 621.78,759.06 621.9,748.55 622.02,736.89 622.18,736.8 622.34,747.93 622.5,753.57 622.66,752.75 622.82,746.54 622.98,743.59 623.14,756.84 623.3,747.37 623.46,726.57 623.62,731.81 623.78,718.32 623.94,746.46 624.1,721.91 624.26,739.86 624.42,733.5 624.58,745.46 624.74,738.58 624.9,747.34 625.06,733.65 625.22,742.82 625.38,718 625.54,718.89 625.7,726.11 625.86,729.04 626.02,721.11 626.18,715.26 626.34,723.2 626.5,739.19 626.66,716.31 626.82,714.36 626.98,717.13 627.14,710.48 627.3,711.61 627.46,737.64 627.62,737.49 627.78,721.14 627.94,728.46 628.1,729.74 628.26,722.11 628.42,695.5 628.58,709.19 628.74,708.38 628.9,730.08 629.06,730.9 629.22,722.98 629.38,725.59 629.54,723.14 629.7,728.63 629.86,706.28 630.02,716.12 630.18,720.64 630.34,714.28 630.5,713.19 630.66,702.86 630.82,693.31 630.98,720.08 631.14,707.46 631.3,687.12 631.46,715.16 631.62,700.62 631.78,727.98 631.94,707.27 632.1,726.27 632.26,711.66 632.42,726.02 632.58,727.97 632.74,718.5 632.9,722.63 633.06,702.38 633.22,694.63 633.38,720.43 633.54,728.24 633.7,718.4 633.86,717.27 634.02,705.18 634.18,721.95 634.34,704.16 634.5,716.12 634.66,711.28 634.82,702.06 634.98,707.15 635.14,728.83 635.3,716.53 635.46,709.51 635.62,717.36 635.78,696 635.94,714.33 636.1,705.26 636.26,725.96 636.42,703.16 636.58,703.75 636.74,699.41 636.9,709.16 637.06,699.45 637.22,698.12 637.38,704.99 637.54,719.8 637.7,709.7 637.86,720.01 638.02,707.66 638.18,701.4 638.34,710.86 638.5,705.68 638.66,696.93 638.82,704.62 638.98,708 639.14,699 639.3,703.36 639.46,710.44 639.62,729.91 639.78,694.39 639.94,701.4 640.1,711.75 640.26,719.49 640.42,714.2 640.58,692.37 640.74,710.03 640.9,710.11 641.06,735.6 641.22,711.78 641.38,696.45 641.54,708.53 641.7,705.25 641.86,699.93 642.02,715.81 642.18,716.1 642.34,708.08 642.5,714.64 642.66,718.18 642.82,713.18 642.98,697.93 643.14,696.45 643.3,691.17 643.46,708.06 643.62,699.82 643.78,709.63 643.94,721.17 644.1,697.98 644.26,718.72 644.42,688.61 644.58,705.29 644.74,720.34 644.9,707.38 645.06,700.08 645.22,709.62 645.38,687.85 645.54,683.79 645.7,716.29 645.86,690.43 646.02,714.12 646.18,691.86 646.34,697.45 646.5,692 646.66,690.59 646.82,705.22 646.98,700 647.14,688.94 647.3,718.18 647.46,717.64 647.62,704.19 647.78,705.37 647.94,694.27 648.1,715.67 648.26,699.35 648.42,688.62 648.58,712.62 648.74,715.49 648.9,689.87 649.06,708.77 649.22,696.54 649.38,713.39 649.54,712.61 649.7,695.48 649.86,710.11 650.02,696.4 650.18,698.05 650.34,710.32 650.5,696.43 650.66,714.45 650.82,694.24 650.98,690.33 651.14,684.82 651.3,701.71 651.46,701.98 651.62,702.5 651.78,714.98 651.94,687.79 652.1,705.11 652.26,706.81 652.42,684.48 652.58,673 652.74,695.58 652.9,687.57 653.06,712.06 653.22,702.18 653.38,710.16 653.54,673.19 653.7,707.29 653.86,709.5 654.02,712.29 654.18,697.25 654.34,709.44 654.5,714.73 654.66,723.49 654.82,681.53 654.98,709.86 655.14,700.69 655.3,717.83 655.46,683.48 655.62,691.9 655.78,696.17 655.94,712.07 656.1,699.83 656.26,691.05 656.42,692.28 656.58,713.32 656.74,708.71 656.9,684.25 657.06,684.24 657.22,713.97 657.38,712.93 657.54,687.32 657.7,718.93 657.86,719.01 658.02,698.93 658.18,689.86 658.34,703.25 658.5,695.68 658.66,689.27 658.82,725.26 658.98,701.22 659.14,680.29 659.3,711.28 659.46,687.19 659.62,700.15 659.78,690.45 659.94,710.42 660.1,704.78 660.26,709.24 660.42,703.52 660.58,683.91 660.74,679.84 660.9,708.17 661.06,712.29 661.22,686.4 661.38,679.01 661.54,692.72 661.7,690.05 661.86,681.38 662.02,702.25 662.18,681.24 662.34,702.6 662.5,698.05 662.66,704.09 662.82,679.5 662.98,679.19 663.14,674.58 663.3,700.36 663.46,709.23 663.62,701.72 663.78,683.28 663.94,711.62 664.1,693.67 664.26,710.57 664.42,696.02 664.58,695.51 664.74,702.46 664.9,706.12 665.06,696.7 665.22,684.8 665.38,679.03 665.54,697.08 665.7,708.42 665.86,684.2 666.02,697.47 666.18,678.17 666.34,701.35 666.5,686.35 666.66,706.08 666.82,683.64 666.98,670.46 667.14,678.5 667.3,685.57 667.46,709.65 667.62,680.24 667.78,681.27 667.94,691.95 668.1,688.2 668.26,693.02 668.42,690.63 668.58,688.07 668.74,683.54 668.9,697.72 669.06,707 669.22,701.43 669.38,689.35 669.54,697.02 669.7,692.53 669.86,699.28 670.02,690.87 670.18,692.1 670.34,705.82 670.5,694.97 670.66,684.33 670.82,700.63 670.98,699.05 671.14,689.55 671.3,690.93 671.46,704.45 671.62,687.98 671.78,679.12 671.94,692.01 672.1,696.8 672.26,698.03 672.42,670.12 672.58,683.03 672.74,706.43 672.9,700.71 673.06,687.4 673.22,697.42 673.38,706.12 673.54,705.21 673.7,706.82 673.86,703.43 674.02,709.78 674.18,706.62 674.34,718.45 674.5,700.39 674.66,703.17 674.82,710.8 674.98,712.31 675.14,705.6 675.3,678.69 675.46,688.54 675.62,668.69 675.78,678.39 675.94,681.62 676.1,702.22 676.26,701.7 676.42,678.88 676.58,703.16 676.74,693.64 676.9,703.57 677.06,688.13 677.22,715.15 677.38,695.2 677.54,694.1 677.7,697.13 677.86,671.11 678.02,688.3 678.18,707.22 678.34,714.61 678.5,702.56 678.66,687.84 678.82,675.06 678.98,700.26 679.14,704.27 679.3,703.16 679.46,695.49 679.62,695.33 679.78,682.33 679.94,683.1 680.1,672.33 680.26,685.46 680.42,702.47 680.58,686.12 680.74,690.72 680.9,684.06 681.06,697.2 681.22,684.78 681.38,693.9 681.54,710.18 681.7,688.37 681.86,698.09 682.02,701.44 682.18,697.7 682.34,694.86 682.5,682.51 682.66,699.95 682.82,702.85 682.98,684.93 683.14,690.32 683.3,693.42 683.46,698.67 683.62,684.44 683.78,689.43 683.94,694.04 684.1,696.35 684.26,697.78 684.42,693.24 684.58,702.42 684.74,684.77 684.9,692.83 685.06,681.58 685.22,695.07 685.38,696.61 685.54,694.83 685.7,686.53 685.86,702.66 686.02,703.66 686.18,692.77 686.34,695.71 686.5,704.76 686.66,688.78 686.82,691.89 686.98,692.14 687.14,691.99 687.3,694.89 687.46,703.09 687.62,698.12 687.78,701.04 687.94,706.31 688.1,705.36 688.26,686.17 688.42,693.26 688.58,689.47 688.74,706.05 688.9,679.86 689.06,695.65 689.22,683.27 689.38,687.31 689.54,694.68 689.7,705.37 689.86,691.91 690.02,702.65 690.18,700.85 690.34,699.48 690.5,705.8 690.66,700.61 690.82,695.59 690.98,686.71 691.14,686.4 691.3,693.46 691.46,699.21 691.62,706.74 691.78,701.7 691.94,698.21 692.1,705.49 692.26,689.81 692.42,709.81 692.58,688.16 692.74,682.06 692.9,691.93 693.06,692.97 693.22,689.12 693.38,692.4 693.54,682.12 693.7,683.85 693.86,688.52 694.02,696.38 694.18,683.68 694.34,704.76 694.5,688.68 694.66,695.21 694.82,693.93 694.98,675.02 695.14,673.25 695.3,681.04 695.46,689.73 695.62,687.13 695.78,689.54 695.94,704.57 696.1,686.67 696.26,707.11 696.42,684.85 696.58,680.89 696.74,701.42 696.9,701.72 697.06,704.55 697.22,702.35 697.38,704.62 697.54,685.98 697.7,692.99 697.86,670.6 698.02,692.98 698.18,684.85 698.34,678.3 698.5,699.67 698.66,685.04 698.82,686.5 698.98,686.68 699.14,685.4 699.3,705.41 699.46,696.44 699.62,706.71 699.78,677.92 699.94,701.65 700.1,686.27 700.26,679.05 700.42,691.7 700.58,685.21 700.74,701.45 700.9,680.77 701.06,707.5 701.22,704.28 701.38,686.9 701.54,688.91 701.7,681.84 701.86,689.66 702.02,692.15 702.18,671.73 702.34,684.13 702.5,684.28 702.66,669.87 702.82,706.73 702.98,680.44 703.14,702.22 703.3,692.83 703.46,699.91 703.62,680.48 703.78,680.29 703.94,687.74 704.1,695.3 704.26,679.28 704.42,688.23 704.58,701.23 704.74,705.6 704.9,692.14 705.06,697.93 705.22,671.5 705.38,678.58 705.54,674.73 705.7,702.66 705.86,700.54 706.02,694.1 706.18,678.72 706.34,695.47 706.5,692.81 706.66,684.78 706.82,680.93 706.98,685.59 707.14,693.53 707.3,704.64 707.46,685.33 707.62,701.64 707.78,690.52 707.94,704.96 708.1,683.93 708.26,687.58 708.42,697.67 708.58,708.68 708.74,700.34 708.9,695.44 709.06,685.99 709.22,692.95 709.38,698.73 709.54,688.52 709.7,700.41 709.86,702.84 710.02,681.61 710.18,680.52 710.34,696.37 710.5,690.63 710.66,683.91 710.82,698.83 710.98,694.02 711.14,685.32" stroke="#ff8000" stroke-width="1" fill="none" stroke-linejoin="bevel"/>
<polyline points="618.3,1036 619.5,900 622,746" stroke="#ff8000" stroke-width="1.7" fill="none" />
<line x1="201.3" y1="696" x2="201.3" y2="1026.2" stroke="#555" stroke-width="2" />
<line x1="319.7" y1="672.5" x2="319.7" y2="1004.5" stroke="#555" stroke-width="2" />
<line x1="419.4" y1="673" x2="419.4" y2="1004.5" stroke="#555" stroke-width="2" />
<line x1="514.6" y1="672" x2="514.6" y2="1004.5" stroke="#555" stroke-width="2" />
<line x1="616.5" y1="672" x2="616.5" y2="1004.5" stroke="#555" stroke-width="2" />
<text transform="translate(55.7,1034.6) rotate(-90)" font-family='"Liberation Sans", sans-serif' font-size="36" font-weight="bold" font-style="normal" fill="#000" text-anchor="start" textLength="395.6" lengthAdjust="spacingAndGlyphs" >Hydrogen content(wt%)</text>
<text x="338.4" y="1156" font-family='"Liberation Sans", sans-serif' font-size="36" font-weight="bold" font-style="normal" fill="#000" text-anchor="start" textLength="173.5" lengthAdjust="spacingAndGlyphs" >Time(min)</text>
<text x="6.1" y="619.8" font-family='"Liberation Serif", serif' font-size="51.5" font-weight="bold" font-style="normal" fill="#000" text-anchor="start" >c</text>
<line x1="840.3" y1="618.6" x2="848.6" y2="618.6" stroke="#4a4a4a" stroke-width="1.8" />
<text x="832.5" y="625.9" font-family='"Liberation Sans", sans-serif' font-size="20.5" font-weight="normal" font-style="normal" fill="#333" text-anchor="end" textLength="38" lengthAdjust="spacingAndGlyphs" >-5.6</text>
<line x1="845" y1="656.82" x2="848.6" y2="656.82" stroke="#4a4a4a" stroke-width="1.8" />
<line x1="840.3" y1="695.05" x2="848.6" y2="695.05" stroke="#4a4a4a" stroke-width="1.8" />
<text x="832.5" y="702.35" font-family='"Liberation Sans", sans-serif' font-size="20.5" font-weight="normal" font-style="normal" fill="#333" text-anchor="end" textLength="38" lengthAdjust="spacingAndGlyphs" >-5.7</text>
<line x1="845" y1="733.27" x2="848.6" y2="733.27" stroke="#4a4a4a" stroke-width="1.8" />
<line x1="840.3" y1="771.5" x2="848.6" y2="771.5" stroke="#4a4a4a" stroke-width="1.8" />
<text x="832.5" y="778.8" font-family='"Liberation Sans", sans-serif' font-size="20.5" font-weight="normal" font-style="normal" fill="#333" text-anchor="end" textLength="38" lengthAdjust="spacingAndGlyphs" >-5.8</text>
<line x1="845" y1="809.73" x2="848.6" y2="809.73" stroke="#4a4a4a" stroke-width="1.8" />
<line x1="840.3" y1="847.95" x2="848.6" y2="847.95" stroke="#4a4a4a" stroke-width="1.8" />
<text x="832.5" y="855.25" font-family='"Liberation Sans", sans-serif' font-size="20.5" font-weight="normal" font-style="normal" fill="#333" text-anchor="end" textLength="38" lengthAdjust="spacingAndGlyphs" >-5.9</text>
<line x1="845" y1="886.17" x2="848.6" y2="886.17" stroke="#4a4a4a" stroke-width="1.8" />
<line x1="840.3" y1="924.4" x2="848.6" y2="924.4" stroke="#4a4a4a" stroke-width="1.8" />
<text x="832.5" y="931.7" font-family='"Liberation Sans", sans-serif' font-size="20.5" font-weight="normal" font-style="normal" fill="#333" text-anchor="end" textLength="38" lengthAdjust="spacingAndGlyphs" >-6.0</text>
<line x1="845" y1="962.63" x2="848.6" y2="962.63" stroke="#4a4a4a" stroke-width="1.8" />
<line x1="840.3" y1="1000.85" x2="848.6" y2="1000.85" stroke="#4a4a4a" stroke-width="1.8" />
<text x="832.5" y="1008.15" font-family='"Liberation Sans", sans-serif' font-size="20.5" font-weight="normal" font-style="normal" fill="#333" text-anchor="end" textLength="38" lengthAdjust="spacingAndGlyphs" >-6.1</text>
<line x1="845" y1="1039.07" x2="848.6" y2="1039.07" stroke="#4a4a4a" stroke-width="1.8" />
<line x1="840.3" y1="1077.3" x2="848.6" y2="1077.3" stroke="#4a4a4a" stroke-width="1.8" />
<text x="832.5" y="1084.6" font-family='"Liberation Sans", sans-serif' font-size="20.5" font-weight="normal" font-style="normal" fill="#333" text-anchor="end" textLength="38" lengthAdjust="spacingAndGlyphs" >-6.2</text>
<line x1="849.3" y1="1077.9" x2="849.3" y2="1086.9" stroke="#4a4a4a" stroke-width="1.8" />
<text x="847.3" y="1110.5" font-family='"Liberation Sans", sans-serif' font-size="20.5" font-weight="normal" font-style="normal" fill="#333" text-anchor="middle" textLength="37" lengthAdjust="spacingAndGlyphs" >-0.4</text>
<line x1="888.55" y1="1077.9" x2="888.55" y2="1083.4" stroke="#4a4a4a" stroke-width="1.8" />
<line x1="927.8" y1="1077.9" x2="927.8" y2="1086.9" stroke="#4a4a4a" stroke-width="1.8" />
<text x="925.8" y="1110.5" font-family='"Liberation Sans", sans-serif' font-size="20.5" font-weight="normal" font-style="normal" fill="#333" text-anchor="middle" textLength="37" lengthAdjust="spacingAndGlyphs" >-0.3</text>
<line x1="967.05" y1="1077.9" x2="967.05" y2="1083.4" stroke="#4a4a4a" stroke-width="1.8" />
<line x1="1006.3" y1="1077.9" x2="1006.3" y2="1086.9" stroke="#4a4a4a" stroke-width="1.8" />
<text x="1004.3" y="1110.5" font-family='"Liberation Sans", sans-serif' font-size="20.5" font-weight="normal" font-style="normal" fill="#333" text-anchor="middle" textLength="37" lengthAdjust="spacingAndGlyphs" >-0.2</text>
<line x1="1045.55" y1="1077.9" x2="1045.55" y2="1083.4" stroke="#4a4a4a" stroke-width="1.8" />
<line x1="1084.8" y1="1077.9" x2="1084.8" y2="1086.9" stroke="#4a4a4a" stroke-width="1.8" />
<text x="1082.8" y="1110.5" font-family='"Liberation Sans", sans-serif' font-size="20.5" font-weight="normal" font-style="normal" fill="#333" text-anchor="middle" textLength="37" lengthAdjust="spacingAndGlyphs" >-0.1</text>
<line x1="1124.05" y1="1077.9" x2="1124.05" y2="1083.4" stroke="#4a4a4a" stroke-width="1.8" />
<line x1="1163.3" y1="1077.9" x2="1163.3" y2="1086.9" stroke="#4a4a4a" stroke-width="1.8" />
<text x="1163.3" y="1110.5" font-family='"Liberation Sans", sans-serif' font-size="20.5" font-weight="normal" font-style="normal" fill="#333" text-anchor="middle" textLength="29.5" lengthAdjust="spacingAndGlyphs" >0.0</text>
<line x1="1202.55" y1="1077.9" x2="1202.55" y2="1083.4" stroke="#4a4a4a" stroke-width="1.8" />
<line x1="1241.8" y1="1077.9" x2="1241.8" y2="1086.9" stroke="#4a4a4a" stroke-width="1.8" />
<text x="1241.8" y="1110.5" font-family='"Liberation Sans", sans-serif' font-size="20.5" font-weight="normal" font-style="normal" fill="#333" text-anchor="middle" textLength="29.5" lengthAdjust="spacingAndGlyphs" >0.1</text>
<line x1="1281.05" y1="1077.9" x2="1281.05" y2="1083.4" stroke="#4a4a4a" stroke-width="1.8" />
<line x1="1320.3" y1="1077.9" x2="1320.3" y2="1086.9" stroke="#4a4a4a" stroke-width="1.8" />
<text x="1320.3" y="1110.5" font-family='"Liberation Sans", sans-serif' font-size="20.5" font-weight="normal" font-style="normal" fill="#333" text-anchor="middle" textLength="29.5" lengthAdjust="spacingAndGlyphs" >0.2</text>
<line x1="1359.55" y1="1077.9" x2="1359.55" y2="1083.4" stroke="#4a4a4a" stroke-width="1.8" />
<line x1="1398.8" y1="1077.9" x2="1398.8" y2="1086.9" stroke="#4a4a4a" stroke-width="1.8" />
<text x="1398.8" y="1110.5" font-family='"Liberation Sans", sans-serif' font-size="20.5" font-weight="normal" font-style="normal" fill="#333" text-anchor="middle" textLength="29.5" lengthAdjust="spacingAndGlyphs" >0.3</text>
<line x1="1438.05" y1="1077.9" x2="1438.05" y2="1083.4" stroke="#4a4a4a" stroke-width="1.8" />
<line x1="1477.3" y1="1077.9" x2="1477.3" y2="1086.9" stroke="#4a4a4a" stroke-width="1.8" />
<text x="1477.3" y="1110.5" font-family='"Liberation Sans", sans-serif' font-size="20.5" font-weight="normal" font-style="normal" fill="#333" text-anchor="middle" textLength="29.5" lengthAdjust="spacingAndGlyphs" >0.4</text>
<rect x="848.6" y="618.6" width="628.6" height="459.3" fill="none" stroke="#4a4a4a" stroke-width="2"/>
<rect x="999.4" y="629.7" width="17.4" height="17" fill="#ff0000"/>
<text x="1038.2" y="643.9" font-family='"Liberation Sans", sans-serif' font-size="21" font-weight="bold" font-style="normal" fill="#111" text-anchor="start" textLength="332.2" lengthAdjust="spacingAndGlyphs" >Normalized experimental results</text>
<line x1="1164.1" y1="619.6" x2="1164.1" y2="1078.5" stroke="#ff33ff" stroke-width="2.6" stroke-dasharray="10.2 10.45" stroke-dashoffset="4.05"/>
<polyline points="966.5,1077.9 1163.5,757.2 1360.5,1077.9" stroke="#8000ff" stroke-width="2.6" fill="none" stroke-linejoin="miter"/>
<rect x="1247" y="881.6" width="17.9" height="17.9" fill="#ff0000"/>
<rect x="1304.3" y="1021.4" width="17.3" height="17" fill="#ff0000"/>
<rect x="1312.2" y="1028.6" width="17.9" height="17.2" fill="#ff0000"/>
<line x1="1329.84" y1="1028" x2="1340.9" y2="1046" stroke="#8000ff" stroke-width="2.6" />
<text x="1184.2" y="702.1" font-family='"Liberation Sans", sans-serif' font-size="20.5" font-weight="bold" font-style="normal" fill="#ff8c1a" text-anchor="start" textLength="163.5" lengthAdjust="spacingAndGlyphs" >Ideal X(-Y)-G-Ca</text>
<text x="1242.2" y="874.5" font-family='"Liberation Sans", sans-serif' font-size="20.5" font-weight="bold" font-style="normal" fill="#ff0000" text-anchor="start" textLength="71.3" lengthAdjust="spacingAndGlyphs" >O-G-Ca</text>
<text x="1234.6" y="1019.5" font-family='"Liberation Sans", sans-serif' font-size="20.5" font-weight="bold" font-style="normal" fill="#ff0000" text-anchor="start" textLength="70.3" lengthAdjust="spacingAndGlyphs" >P-G-Ca</text>
<text x="1266.9" y="1065.7" font-family='"Liberation Sans", sans-serif' font-size="20.5" font-weight="bold" font-style="normal" fill="#ff0000" text-anchor="start" textLength="71.7" lengthAdjust="spacingAndGlyphs" >N-G-Ca</text>
<line x1="1252.6" y1="715.5" x2="1180" y2="750.5" stroke="#ff8000" stroke-width="3.6" stroke-linecap="round"/>
<polygon points="1164.5,758.4 1186,741.3 1191.3,754.1" fill="#ff8000" />
<polygon points="1353.4,912.2 1298.5,830.2 1287.4,837.3 1282.2,793.9 1320.3,815.8 1309.3,823 1364.2,905" fill="#ffc000" />
<text transform="translate(782,914.6) rotate(-90)" font-family='"Liberation Sans", sans-serif' font-weight="bold" font-style="italic" font-size="35" fill="#000">Ln(C</text>
<text transform="translate(783,838.5) rotate(-90)" font-family='"Liberation Sans", sans-serif' font-weight="bold" font-style="italic" font-size="19" fill="#000">H2/site</text>
<text transform="translate(782,776.5) rotate(-90)" font-family='"Liberation Sans", sans-serif' font-weight="bold" font-style="italic" font-size="35" fill="#000">)</text>
<line x1="780.8" y1="918.6" x2="786.2" y2="920.4" stroke="#333" stroke-width="1.5" />
<text x="1104.5" y="1140.4" font-family='"Liberation Serif", serif' font-size="29" font-style="italic" fill="#222" textLength="34" lengthAdjust="spacingAndGlyphs">ΔG</text>
<text x="1144.7" y="1127.5" font-family='"Liberation Serif", serif' font-size="18" font-style="italic" fill="#222">min</text>
<text x="1140.4" y="1150.5" font-family='"Liberation Serif", serif' font-size="18" font-style="italic" fill="#222">H<tspan font-size="14">2</tspan></text>
<text x="1180.4" y="1140.4" font-family='"Liberation Serif", serif' font-size="29" fill="#222" textLength="54.5" lengthAdjust="spacingAndGlyphs">(eV)</text>
<text x="753.6" y="637.1" font-family='"Liberation Serif", serif' font-size="51.5" font-weight="bold" font-style="normal" fill="#000" text-anchor="start" >d</text>
</svg></body></html>
